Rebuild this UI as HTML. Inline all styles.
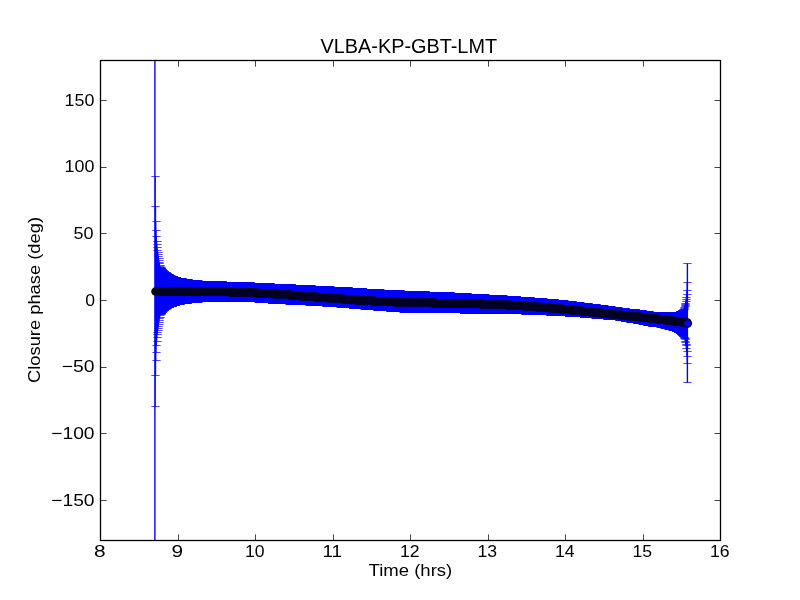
<!DOCTYPE html><html><head><meta charset="utf-8"><style>html,body{margin:0;padding:0;background:#fff;overflow:hidden}svg{display:block;will-change:transform}text{font-family:"Liberation Sans",sans-serif;fill:#000}</style></head><body><svg width="800" height="600" viewBox="0 0 800 600"><rect width="800" height="600" fill="#fff"/><defs><clipPath id="ax"><rect x="100" y="60" width="621" height="481"/></clipPath></defs><g clip-path="url(#ax)" fill="none" stroke="#00f"><path d="M154.90 -18.80V601.20M155.18 176.07V406.33M155.46 206.83V375.58M155.74 221.45V360.96M156.02 230.42V352.01M156.30 236.63V345.80M156.58 241.26V341.18M156.86 244.88V337.56M157.14 247.82V334.63M157.42 250.26V332.20M157.70 252.33V330.13M157.98 254.31V328.15M158.26 256.36V326.11M158.55 258.38V324.10M158.83 260.32V322.16M159.11 262.15V320.34M159.39 263.85V318.65M159.67 265.42V317.08M159.95 266.86V315.65M160.23 267.40V314.50M160.51 267.72V314.18M160.79 268.06V313.83M161.07 268.41V313.48M161.35 268.76V313.13M161.63 269.10V312.78M161.91 269.45V312.42M162.19 269.79V312.07M162.47 270.14V311.72M162.75 270.49V311.37M163.03 270.83V311.02M163.31 271.14V310.71M163.59 271.34V310.51M163.87 271.54V310.31M164.15 271.74V310.11M164.43 271.94V309.91M164.71 272.13V309.72M164.99 272.33V309.52M165.28 272.53V309.32M165.56 272.73V309.12M165.84 272.93V308.92M166.12 273.13V308.72M166.40 273.32V308.53M166.68 273.52V308.33M166.96 273.72V308.13M167.24 273.89V308.00M167.52 274.06V307.89M167.80 274.23V307.78M168.08 274.40V307.67M168.36 274.57V307.56M168.64 274.73V307.44M168.92 274.90V307.33M169.20 275.07V307.22M169.48 275.24V307.11M169.76 275.41V307.00M170.04 275.58V306.88M170.32 275.74V306.77M170.60 275.91V306.66M170.88 276.05V306.56M171.16 276.15V306.46M171.44 276.26V306.37M171.72 276.36V306.28M172.01 276.47V306.18M172.29 276.57V306.09M172.57 276.68V305.99M172.85 276.78V305.90M173.13 276.89V305.81M173.41 276.99V305.71M173.69 277.10V305.62M173.97 277.20V305.53M174.25 277.31V305.43M174.53 277.41V305.34M174.81 277.48V305.26M175.09 277.56V305.17M175.37 277.63V305.08M175.65 277.71V305.00M175.93 277.78V304.91M176.21 277.86V304.83M176.49 277.93V304.74M176.77 278.01V304.65M177.05 278.08V304.57M177.33 278.16V304.48M177.61 278.23V304.40M177.89 278.30V304.31M178.17 278.38V304.22M178.45 278.43V304.18M178.73 278.48V304.15M179.02 278.52V304.12M179.30 278.57V304.09M179.58 278.61V304.06M179.86 278.66V304.03M180.14 278.70V304.00M180.42 278.75V303.97M180.70 278.79V303.94M180.98 278.84V303.91M181.26 278.88V303.88M181.54 278.93V303.85M181.82 278.97V303.82M182.10 279.02V303.79M182.38 279.06V303.74M182.66 279.11V303.70M182.94 279.16V303.66M183.22 279.20V303.62M183.50 279.25V303.57M183.78 279.30V303.53M184.06 279.34V303.49M184.34 279.39V303.45M184.62 279.44V303.41M184.90 279.48V303.36M185.18 279.53V303.32M185.46 279.58V303.28M185.75 279.62V303.24M186.03 279.67V303.20M186.31 279.72V303.15M186.59 279.76V303.11M186.87 279.81V303.07M187.15 279.86V303.03M187.43 279.90V302.99M187.71 279.95V302.94M187.99 280.00V302.90M188.27 280.03V302.88M188.55 280.05V302.86M188.83 280.08V302.84M189.11 280.11V302.82M189.39 280.13V302.79M189.67 280.16V302.77M189.95 280.19V302.75M190.23 280.21V302.73M190.51 280.24V302.71M190.79 280.27V302.69M191.07 280.29V302.67M191.35 280.32V302.64M191.63 280.35V302.62M191.91 280.37V302.60M192.19 280.40V302.58M192.48 280.43V302.56M192.76 280.45V302.54M193.04 280.48V302.52M193.32 280.51V302.49M193.60 280.54V302.46M193.88 280.57V302.43M194.16 280.60V302.40M194.44 280.64V302.36M194.72 280.67V302.33M195.00 280.70V302.30M195.28 280.73V302.27M195.56 280.76V302.24M195.84 280.80V302.20M196.12 280.83V302.17M196.40 280.86V302.14M196.68 280.89V302.11M196.96 280.92V302.08M197.24 280.96V302.04M197.52 280.99V302.01M197.80 281.02V301.98M198.08 281.05V301.95M198.36 281.08V301.92M198.64 281.10V301.90M198.92 281.11V301.89M199.20 281.12V301.88M199.49 281.13V301.87M199.77 281.14V301.86M200.05 281.15V301.85M200.33 281.16V301.84M200.61 281.16V301.84M200.89 281.17V301.83M201.17 281.18V301.82M201.45 281.19V301.81M201.73 281.20V301.80M202.01 281.21V301.79M202.29 281.22V301.78M202.57 281.23V301.77M202.85 281.23V301.77M203.13 281.24V301.76M203.41 281.25V301.75M203.69 281.26V301.74M203.97 281.27V301.73M204.25 281.28V301.72M204.53 281.29V301.71M204.81 281.29V301.71M205.09 281.30V301.70M205.37 281.31V301.69M205.65 281.32V301.68M205.93 281.33V301.67M206.22 281.34V301.66M206.50 281.35V301.65M206.78 281.35V301.65M207.06 281.36V301.64M207.34 281.37V301.63M207.62 281.38V301.62M207.90 281.39V301.61M208.18 281.40V301.60M208.46 281.41V301.59M208.74 281.42V301.58M209.02 281.43V301.57M209.30 281.44V301.56M209.58 281.45V301.55M209.86 281.46V301.54M210.14 281.48V301.52M210.42 281.49V301.51M210.70 281.50V301.50M210.98 281.51V301.49M211.26 281.52V301.48M211.54 281.53V301.47M211.82 281.54V301.46M212.10 281.55V301.45M212.38 281.57V301.43M212.66 281.58V301.42M212.95 281.59V301.41M213.23 281.60V301.40M213.51 281.61V301.39M213.79 281.62V301.38M214.07 281.63V301.37M214.35 281.64V301.36M214.63 281.66V301.34M214.91 281.67V301.33M215.19 281.68V301.32M215.47 281.69V301.31M215.75 281.70V301.30M216.03 281.71V301.30M216.31 281.73V301.29M216.59 281.74V301.29M216.87 281.75V301.29M217.15 281.76V301.29M217.43 281.78V301.28M217.71 281.79V301.28M217.99 281.80V301.28M218.27 281.82V301.27M218.55 281.83V301.27M218.83 281.84V301.27M219.11 281.85V301.27M219.39 281.87V301.26M219.67 281.88V301.26M219.96 281.89V301.26M220.24 281.91V301.26M220.52 281.92V301.25M220.80 281.93V301.25M221.08 281.94V301.25M221.36 281.96V301.24M221.64 281.97V301.24M221.92 281.98V301.24M222.20 281.99V301.24M222.48 282.01V301.23M222.76 282.02V301.23M223.04 282.03V301.23M223.32 282.05V301.22M223.60 282.06V301.22M223.88 282.07V301.22M224.16 282.08V301.22M224.44 282.10V301.21M224.72 282.11V301.21M225.00 282.12V301.21M225.28 282.14V301.20M225.56 282.15V301.20M225.84 282.16V301.20M226.12 282.17V301.20M226.40 282.19V301.19M226.69 282.20V301.19M226.97 282.21V301.19M227.25 282.23V301.19M227.53 282.24V301.18M227.81 282.25V301.18M228.09 282.26V301.18M228.37 282.28V301.17M228.65 282.29V301.17M228.93 282.30V301.17M229.21 282.32V301.17M229.49 282.33V301.16M229.77 282.34V301.16M230.05 282.35V301.16M230.33 282.37V301.15M230.61 282.38V301.15M230.89 282.39V301.15M231.17 282.40V301.15M231.45 282.42V301.14M231.73 282.43V301.14M232.01 282.44V301.14M232.29 282.46V301.13M232.57 282.47V301.13M232.85 282.48V301.13M233.13 282.49V301.13M233.42 282.51V301.12M233.70 282.52V301.12M233.98 282.53V301.12M234.26 282.54V301.11M234.54 282.55V301.11M234.82 282.56V301.11M235.10 282.57V301.11M235.38 282.59V301.10M235.66 282.60V301.10M235.94 282.61V301.10M236.22 282.62V301.10M236.50 282.63V301.11M236.78 282.64V301.11M237.06 282.65V301.11M237.34 282.66V301.11M237.62 282.67V301.12M237.90 282.69V301.12M238.18 282.70V301.12M238.46 282.71V301.12M238.74 282.72V301.12M239.02 282.73V301.13M239.30 282.74V301.13M239.58 282.75V301.13M239.86 282.76V301.13M240.14 282.61V301.10M240.43 282.62V301.10M240.71 282.63V301.11M240.99 282.64V301.11M241.27 282.65V301.11M241.55 282.66V301.11M241.83 282.67V301.12M242.11 282.68V301.12M242.39 282.70V301.12M242.67 282.71V301.12M242.95 282.72V301.12M243.23 282.73V301.13M243.51 282.74V301.13M243.79 282.75V301.13M244.07 282.76V301.13M244.35 282.77V301.14M244.63 282.79V301.14M244.91 282.80V301.14M245.19 282.81V301.14M245.47 282.82V301.15M245.75 282.83V301.15M246.03 282.84V301.15M246.31 282.85V301.15M246.59 282.86V301.15M246.87 282.87V301.16M247.16 282.89V301.16M247.44 282.90V301.16M247.72 282.91V301.16M248.00 282.92V301.17M248.28 282.93V301.17M248.56 282.94V301.17M248.84 282.95V301.17M249.12 282.96V301.18M249.40 282.98V301.18M249.68 282.99V301.18M249.96 283.00V301.18M250.24 283.01V301.19M250.52 283.03V301.19M250.80 283.04V301.19M251.08 283.05V301.19M251.36 283.07V301.19M251.64 283.08V301.20M251.92 283.10V301.20M252.20 283.11V301.23M252.48 283.12V301.26M252.76 283.14V301.30M253.04 283.15V301.34M253.32 283.17V301.37M253.60 283.18V301.41M253.88 283.19V301.45M254.17 283.21V301.48M254.45 283.22V301.52M254.73 283.24V301.56M255.01 283.25V301.59M255.29 283.26V301.63M255.57 283.28V301.67M255.85 283.29V301.71M256.13 283.31V301.74M256.41 283.32V301.78M256.69 283.33V301.82M256.97 283.35V301.85M257.25 283.36V301.89M257.53 283.38V301.93M257.81 283.39V301.96M258.09 283.40V302.00M258.37 283.42V302.04M258.65 283.43V302.07M258.93 283.45V302.11M259.21 283.46V302.15M259.49 283.47V302.18M259.77 283.49V302.22M260.05 283.50V302.25M260.33 283.52V302.27M260.61 283.53V302.29M260.90 283.54V302.31M261.18 283.56V302.33M261.46 283.57V302.35M261.74 283.59V302.36M262.02 283.60V302.38M262.30 283.61V302.40M262.58 283.63V302.42M262.86 283.64V302.44M263.14 283.66V302.46M263.42 283.67V302.47M263.70 283.68V302.49M263.98 283.70V302.51M264.26 283.71V302.53M264.54 283.73V302.55M264.82 283.74V302.57M265.10 283.76V302.59M265.38 283.77V302.60M265.66 283.78V302.62M265.94 283.80V302.64M266.22 283.81V302.66M266.50 283.83V302.68M266.78 283.84V302.70M267.06 283.85V302.71M267.34 283.87V302.73M267.63 283.88V302.75M267.91 283.90V302.77M268.19 283.91V302.79M268.47 283.92V302.81M268.75 283.94V302.83M269.03 283.95V302.84M269.31 283.97V302.86M269.59 283.98V302.88M269.87 283.99V302.90M270.15 284.01V302.92M270.43 284.02V302.94M270.71 284.03V302.95M270.99 284.05V302.97M271.27 284.06V302.99M271.55 284.07V303.01M271.83 284.09V303.03M272.11 284.10V303.05M272.39 284.11V303.07M272.67 284.12V303.08M272.95 284.14V303.10M273.23 284.15V303.12M273.51 284.16V303.14M273.79 284.18V303.16M274.07 284.19V303.18M274.35 284.20V303.19M274.64 284.22V303.21M274.92 284.23V303.23M275.20 284.24V303.25M275.48 284.26V303.27M275.76 284.27V303.29M276.04 284.28V303.31M276.32 284.29V303.32M276.60 284.31V303.34M276.88 284.32V303.36M277.16 284.33V303.38M277.44 284.35V303.40M277.72 284.36V303.42M278.00 284.37V303.43M278.28 284.39V303.45M278.56 284.40V303.47M278.84 284.41V303.49M279.12 284.43V303.51M279.40 284.44V303.52M279.68 284.45V303.53M279.96 284.46V303.55M280.24 284.48V303.56M280.52 284.49V303.57M280.80 284.50V303.59M281.08 284.52V303.60M281.37 284.53V303.61M281.65 284.54V303.63M281.93 284.56V303.64M282.21 284.57V303.65M282.49 284.58V303.67M282.77 284.60V303.68M283.05 284.61V303.69M283.33 284.62V303.71M283.61 284.64V303.72M283.89 284.65V303.74M284.17 284.66V303.75M284.45 284.67V303.76M284.73 284.69V303.78M285.01 284.70V303.79M285.29 284.71V303.80M285.57 284.73V303.82M285.85 284.74V303.83M286.13 284.75V303.84M286.41 284.77V303.86M286.69 284.78V303.87M286.97 284.79V303.88M287.25 284.81V303.90M287.53 284.82V303.91M287.81 284.83V303.92M288.10 284.84V303.94M288.38 284.86V303.95M288.66 284.87V303.96M288.94 284.88V303.98M289.22 284.90V303.99M289.50 284.91V304.00M289.78 284.92V304.02M290.06 284.94V304.03M290.34 284.95V304.05M290.62 284.96V304.06M290.90 284.98V304.07M291.18 284.99V304.09M291.46 285.00V304.10M291.74 285.01V304.11M292.02 285.03V304.13M292.30 285.04V304.14M292.58 285.05V304.15M292.86 285.07V304.17M293.14 285.08V304.18M293.42 285.09V304.19M293.70 285.11V304.21M293.98 285.12V304.22M294.26 285.13V304.23M294.54 285.15V304.25M294.82 285.16V304.26M295.11 285.17V304.27M295.39 285.18V304.29M295.67 285.20V304.30M295.95 285.21V304.31M296.23 285.22V304.33M296.51 285.24V304.34M296.79 285.25V304.36M297.07 285.26V304.37M297.35 285.28V304.38M297.63 285.29V304.40M297.91 285.30V304.41M298.19 285.32V304.42M298.47 285.33V304.44M298.75 285.34V304.45M299.03 285.35V304.46M299.31 285.37V304.48M299.59 285.38V304.49M299.87 285.39V304.50M300.15 285.41V304.52M300.43 285.42V304.53M300.71 285.44V304.54M300.99 285.45V304.56M301.27 285.47V304.57M301.55 285.49V304.58M301.84 285.50V304.60M302.12 285.52V304.61M302.40 285.53V304.62M302.68 285.55V304.64M302.96 285.56V304.65M303.24 285.58V304.67M303.52 285.59V304.68M303.80 285.61V304.69M304.08 285.62V304.71M304.36 285.64V304.72M304.64 285.66V304.73M304.92 285.67V304.75M305.20 285.69V304.76M305.48 285.70V304.78M305.76 285.72V304.80M306.04 285.73V304.81M306.32 285.75V304.83M306.60 285.76V304.85M306.88 285.78V304.86M307.16 285.79V304.88M307.44 285.81V304.90M307.72 285.82V304.91M308.00 285.84V304.93M308.28 285.86V304.95M308.57 285.87V304.96M308.85 285.89V304.98M309.13 285.90V305.00M309.41 285.92V305.01M309.69 285.93V305.03M309.97 285.95V305.05M310.25 285.96V305.06M310.53 285.98V305.08M310.81 285.99V305.10M311.09 286.01V305.12M311.37 286.03V305.13M311.65 286.04V305.15M311.93 286.06V305.17M312.21 286.07V305.18M312.49 286.09V305.20M312.77 286.10V305.22M313.05 286.12V305.23M313.33 286.13V305.25M313.61 286.15V305.27M313.89 286.16V305.28M314.17 286.18V305.30M314.45 286.19V305.32M314.73 286.21V305.33M315.01 286.23V305.35M315.29 286.24V305.37M315.58 286.26V305.38M315.86 286.27V305.40M316.14 286.29V305.42M316.42 286.30V305.43M316.70 286.32V305.45M316.98 286.33V305.47M317.26 286.35V305.49M317.54 286.36V305.50M317.82 286.38V305.52M318.10 286.40V305.54M318.38 286.41V305.55M318.66 286.43V305.57M318.94 286.44V305.59M319.22 286.46V305.60M319.50 286.47V305.62M319.78 286.49V305.64M320.06 286.50V305.65M320.34 286.52V305.67M320.62 286.53V305.69M320.90 286.55V305.70M321.18 286.56V305.72M321.46 286.58V305.74M321.74 286.59V305.75M322.02 286.61V305.77M322.31 286.62V305.79M322.59 286.63V305.81M322.87 286.65V305.82M323.15 286.66V305.84M323.43 286.68V305.86M323.71 286.69V305.87M323.99 286.71V305.89M324.27 286.72V305.91M324.55 286.74V305.92M324.83 286.75V305.94M325.11 286.77V305.96M325.39 286.78V305.97M325.67 286.79V305.99M325.95 286.81V306.01M326.23 286.82V306.02M326.51 286.84V306.04M326.79 286.85V306.06M327.07 286.87V306.07M327.35 286.88V306.09M327.63 286.90V306.11M327.91 286.91V306.12M328.19 286.93V306.14M328.47 286.94V306.16M328.75 286.96V306.18M329.04 286.97V306.19M329.32 286.98V306.21M329.60 287.00V306.23M329.88 287.01V306.24M330.16 287.03V306.26M330.44 287.04V306.28M330.72 287.06V306.30M331.00 287.07V306.32M331.28 287.09V306.34M331.56 287.10V306.36M331.84 287.12V306.39M332.12 287.13V306.41M332.40 287.14V306.43M332.68 287.16V306.45M332.96 287.17V306.47M333.24 287.19V306.49M333.52 287.20V306.51M333.80 287.22V306.53M334.08 287.23V306.55M334.36 287.25V306.57M334.64 287.26V306.59M334.92 287.28V306.61M335.20 287.29V306.63M335.48 287.31V306.65M335.76 287.32V306.67M336.05 287.33V306.69M336.33 287.35V306.72M336.61 287.36V306.74M336.89 287.38V306.76M337.17 287.39V306.78M337.45 287.41V306.80M337.73 287.42V306.82M338.01 287.44V306.84M338.29 287.45V306.86M338.57 287.47V306.88M338.85 287.48V306.90M339.13 287.49V306.92M339.41 287.51V306.94M339.69 287.52V306.96M339.97 287.54V306.98M340.25 287.55V307.00M340.53 287.57V307.02M340.81 287.58V307.05M341.09 287.60V307.07M341.37 287.61V307.09M341.65 287.63V307.11M341.93 287.64V307.13M342.21 287.66V307.15M342.49 287.67V307.17M342.78 287.68V307.19M343.06 287.70V307.21M343.34 287.71V307.23M343.62 287.73V307.25M343.90 287.74V307.27M344.18 287.76V307.29M344.46 287.77V307.31M344.74 287.79V307.33M345.02 287.80V307.35M345.30 287.82V307.37M345.58 287.84V307.40M345.86 287.86V307.42M346.14 287.88V307.44M346.42 287.90V307.46M346.70 287.92V307.48M346.98 287.93V307.50M347.26 287.95V307.52M347.54 287.97V307.55M347.82 287.99V307.57M348.10 288.01V307.60M348.38 288.03V307.62M348.66 288.05V307.65M348.94 288.07V307.67M349.22 288.09V307.69M349.51 288.11V307.72M349.79 288.13V307.74M350.07 288.14V307.77M350.35 288.16V307.79M350.63 288.18V307.82M350.91 288.20V307.84M351.19 288.22V307.87M351.47 288.24V307.89M351.75 288.26V307.92M352.03 288.28V307.94M352.31 288.30V307.96M352.59 288.32V307.99M352.87 288.34V308.01M353.15 288.35V308.04M353.43 288.37V308.06M353.71 288.39V308.09M353.99 288.41V308.11M354.27 288.43V308.14M354.55 288.45V308.16M354.83 288.47V308.19M355.11 288.49V308.21M355.39 288.51V308.23M355.67 288.53V308.26M355.95 288.54V308.28M356.23 288.56V308.31M356.52 288.58V308.33M356.80 288.60V308.36M357.08 288.62V308.38M357.36 288.64V308.41M357.64 288.66V308.43M357.92 288.68V308.46M358.20 288.70V308.48M358.48 288.72V308.50M358.76 288.74V308.53M359.04 288.75V308.55M359.32 288.77V308.58M359.60 288.79V308.60M359.88 288.81V308.63M360.16 288.83V308.65M360.44 288.85V308.68M360.72 288.87V308.70M361.00 288.89V308.73M361.28 288.91V308.75M361.56 288.93V308.77M361.84 288.95V308.80M362.12 288.96V308.82M362.40 288.98V308.85M362.68 289.00V308.87M362.96 289.02V308.90M363.25 289.04V308.92M363.53 289.06V308.95M363.81 289.08V308.97M364.09 289.10V309.00M364.37 289.12V309.02M364.65 289.14V309.04M364.93 289.16V309.07M365.21 289.17V309.09M365.49 289.19V309.12M365.77 289.21V309.14M366.05 289.23V309.17M366.33 289.25V309.19M366.61 289.27V309.22M366.89 289.29V309.24M367.17 289.31V309.26M367.45 289.33V309.28M367.73 289.35V309.31M368.01 289.36V309.33M368.29 289.38V309.35M368.57 289.40V309.37M368.85 289.42V309.39M369.13 289.44V309.41M369.41 289.46V309.43M369.69 289.48V309.46M369.98 289.50V309.48M370.26 289.51V309.50M370.54 289.53V309.52M370.82 289.54V309.54M371.10 289.56V309.56M371.38 289.57V309.58M371.66 289.59V309.60M371.94 289.60V309.63M372.22 289.62V309.65M372.50 289.63V309.67M372.78 289.64V309.69M373.06 289.66V309.71M373.34 289.67V309.73M373.62 289.69V309.75M373.90 289.70V309.78M374.18 289.72V309.80M374.46 289.73V309.82M374.74 289.75V309.84M375.02 289.76V309.86M375.30 289.78V309.88M375.58 289.79V309.90M375.86 289.80V309.92M376.14 289.82V309.95M376.42 289.83V309.97M376.70 289.85V309.99M376.99 289.86V310.01M377.27 289.88V310.03M377.55 289.89V310.05M377.83 289.91V310.07M378.11 289.92V310.10M378.39 289.94V310.12M378.67 289.95V310.14M378.95 289.97V310.16M379.23 289.98V310.18M379.51 289.99V310.20M379.79 290.01V310.22M380.07 290.02V310.24M380.35 290.04V310.27M380.63 290.05V310.29M380.91 290.07V310.31M381.19 290.08V310.33M381.47 290.10V310.35M381.75 290.11V310.37M382.03 290.13V310.39M382.31 290.14V310.42M382.59 290.15V310.44M382.87 290.17V310.46M383.15 290.18V310.48M383.43 290.20V310.50M383.72 290.21V310.52M384.00 290.23V310.54M384.28 290.24V310.56M384.56 290.26V310.59M384.84 290.27V310.61M385.12 290.29V310.63M385.40 290.30V310.65M385.68 290.32V310.67M385.96 290.33V310.69M386.24 290.34V310.71M386.52 290.36V310.74M386.80 290.37V310.76M387.08 290.39V310.78M387.36 290.40V310.80M387.64 290.42V310.82M387.92 290.43V310.84M388.20 290.45V310.86M388.48 290.46V310.88M388.76 290.48V310.91M389.04 290.49V310.93M389.32 290.50V310.95M389.60 290.52V310.97M389.88 290.53V310.99M390.16 290.55V311.01M390.45 290.56V311.03M390.73 290.58V311.05M391.01 290.59V311.08M391.29 290.61V311.10M391.57 290.62V311.12M391.85 290.64V311.14M392.13 290.65V311.16M392.41 290.67V311.18M392.69 290.68V311.20M392.97 290.69V311.22M393.25 290.71V311.24M393.53 290.72V311.26M393.81 290.74V311.29M394.09 290.75V311.31M394.37 290.77V311.33M394.65 290.78V311.35M394.93 290.80V311.37M395.21 290.81V311.39M395.49 290.82V311.41M395.77 290.83V311.43M396.05 290.84V311.45M396.33 290.85V311.48M396.61 290.86V311.50M396.89 290.88V311.52M397.17 290.89V311.54M397.46 290.90V311.56M397.74 290.91V311.58M398.02 290.92V311.60M398.30 290.93V311.62M398.58 290.94V311.64M398.86 290.95V311.66M399.14 290.97V311.69M399.42 290.98V311.71M399.70 290.99V311.73M399.98 291.00V311.75M400.26 291.01V311.77M400.54 291.02V311.79M400.82 291.03V311.81M401.10 291.04V311.83M401.38 291.06V311.85M401.66 291.07V311.87M401.94 291.08V311.90M402.22 291.09V311.92M402.50 291.10V311.94M402.78 291.11V311.96M403.06 291.12V311.98M403.34 291.13V312.00M403.62 291.14V312.02M403.90 291.16V312.04M404.19 291.17V312.06M404.47 291.18V312.08M404.75 291.19V312.11M405.03 291.20V312.13M405.31 291.21V312.15M405.59 291.22V312.17M405.87 291.23V312.19M406.15 291.25V312.21M406.43 291.26V312.23M406.71 291.27V312.25M406.99 291.28V312.27M407.27 291.29V312.30M407.55 291.30V312.32M407.83 291.31V312.34M408.11 291.32V312.36M408.39 291.34V312.38M408.67 291.35V312.40M408.95 291.36V312.42M409.23 291.37V312.44M409.51 291.38V312.46M409.79 291.39V312.48M410.07 291.40V312.50M410.35 291.41V312.50M410.63 291.43V312.51M410.92 291.44V312.51M411.20 291.45V312.51M411.48 291.46V312.51M411.76 291.47V312.52M412.04 291.48V312.52M412.32 291.49V312.52M412.60 291.50V312.53M412.88 291.52V312.53M413.16 291.53V312.53M413.44 291.54V312.53M413.72 291.55V312.54M414.00 291.56V312.54M414.28 291.57V312.54M414.56 291.58V312.55M414.84 291.59V312.55M415.12 291.60V312.55M415.40 291.62V312.55M415.68 291.63V312.56M415.96 291.64V312.56M416.24 291.65V312.56M416.52 291.66V312.57M416.80 291.67V312.57M417.08 291.68V312.57M417.36 291.69V312.57M417.64 291.71V312.58M417.93 291.72V312.58M418.21 291.73V312.58M418.49 291.74V312.58M418.77 291.75V312.59M419.05 291.76V312.59M419.33 291.77V312.59M419.61 291.78V312.60M419.89 291.80V312.60M420.17 291.81V312.60M420.45 291.82V312.60M420.73 291.83V312.61M421.01 291.84V312.61M421.29 291.85V312.61M421.57 291.86V312.62M421.85 291.87V312.62M422.13 291.89V312.62M422.41 291.90V312.62M422.69 291.91V312.63M422.97 291.92V312.63M423.25 291.93V312.63M423.53 291.94V312.64M423.81 291.95V312.64M424.09 291.96V312.64M424.37 291.97V312.64M424.66 291.99V312.65M424.94 292.00V312.65M425.22 292.01V312.65M425.50 292.02V312.65M425.78 292.03V312.66M426.06 292.04V312.66M426.34 292.05V312.66M426.62 292.06V312.67M426.90 292.08V312.67M427.18 292.09V312.67M427.46 292.10V312.67M427.74 292.11V312.68M428.02 292.12V312.68M428.30 292.13V312.68M428.58 292.14V312.69M428.86 292.15V312.69M429.14 292.17V312.69M429.42 292.18V312.69M429.70 292.19V312.70M429.98 292.20V312.70M430.26 292.21V312.70M430.54 292.22V312.71M430.82 292.23V312.71M431.10 292.24V312.71M431.38 292.26V312.71M431.67 292.27V312.72M431.95 292.28V312.72M432.23 292.29V312.72M432.51 292.30V312.73M432.79 292.31V312.73M433.07 292.32V312.73M433.35 292.33V312.73M433.63 292.35V312.74M433.91 292.36V312.74M434.19 292.37V312.74M434.47 292.38V312.74M434.75 292.39V312.75M435.03 292.40V312.75M435.31 292.41V312.75M435.59 292.42V312.76M435.87 292.43V312.76M436.15 292.45V312.76M436.43 292.46V312.76M436.71 292.47V312.77M436.99 292.48V312.77M437.27 292.49V312.77M437.55 292.50V312.78M437.83 292.51V312.78M438.11 292.52V312.78M438.40 292.54V312.78M438.68 292.55V312.79M438.96 292.56V312.79M439.24 292.57V312.79M439.52 292.58V312.80M439.80 292.59V312.80M440.08 292.60V312.80M440.36 292.61V312.80M440.64 292.63V312.81M440.92 292.64V312.81M441.20 292.65V312.81M441.48 292.66V312.81M441.76 292.67V312.82M442.04 292.68V312.82M442.32 292.69V312.82M442.60 292.70V312.83M442.88 292.72V312.83M443.16 292.73V312.83M443.44 292.74V312.83M443.72 292.75V312.84M444.00 292.76V312.84M444.28 292.77V312.84M444.56 292.78V312.85M444.84 292.79V312.85M445.13 292.81V312.85M445.41 292.82V312.85M445.69 292.83V312.86M445.97 292.84V312.86M446.25 292.85V312.86M446.53 292.86V312.87M446.81 292.87V312.87M447.09 292.88V312.87M447.37 292.89V312.87M447.65 292.91V312.88M447.93 292.92V312.88M448.21 292.93V312.88M448.49 292.94V312.88M448.77 292.95V312.89M449.05 292.96V312.89M449.33 292.97V312.89M449.61 292.98V312.90M449.89 293.00V312.90M450.17 293.01V312.90M450.45 293.03V312.90M450.73 293.04V312.91M451.01 293.06V312.91M451.29 293.08V312.91M451.57 293.09V312.91M451.85 293.11V312.91M452.14 293.12V312.92M452.42 293.14V312.92M452.70 293.16V312.92M452.98 293.17V312.92M453.26 293.19V312.92M453.54 293.21V312.93M453.82 293.22V312.93M454.10 293.24V312.93M454.38 293.26V312.93M454.66 293.27V312.93M454.94 293.29V312.94M455.22 293.30V312.94M455.50 293.32V312.94M455.78 293.34V312.94M456.06 293.35V312.94M456.34 293.37V312.95M456.62 293.39V312.95M456.90 293.40V312.95M457.18 293.42V312.95M457.46 293.44V312.96M457.74 293.45V312.96M458.02 293.47V312.96M458.30 293.48V312.96M458.58 293.50V312.96M458.87 293.52V312.97M459.15 293.53V312.97M459.43 293.55V312.97M459.71 293.57V312.97M459.99 293.58V312.97M460.27 293.60V312.98M460.55 293.62V312.98M460.83 293.63V312.98M461.11 293.65V312.98M461.39 293.66V312.98M461.67 293.68V312.99M461.95 293.70V312.99M462.23 293.71V312.99M462.51 293.73V312.99M462.79 293.75V312.99M463.07 293.76V313.00M463.35 293.78V313.00M463.63 293.80V313.00M463.91 293.81V313.00M464.19 293.83V313.01M464.47 293.84V313.01M464.75 293.86V313.01M465.03 293.88V313.01M465.31 293.89V313.01M465.60 293.91V313.02M465.88 293.93V313.02M466.16 293.94V313.02M466.44 293.96V313.02M466.72 293.98V313.02M467.00 293.99V313.03M467.28 294.01V313.03M467.56 294.02V313.03M467.84 294.04V313.03M468.12 294.06V313.03M468.40 294.07V313.04M468.68 294.09V313.04M468.96 294.11V313.04M469.24 294.12V313.04M469.52 294.14V313.04M469.80 294.16V313.05M470.08 294.17V313.05M470.36 294.19V313.05M470.64 294.20V313.05M470.92 294.22V313.05M471.20 294.24V313.06M471.48 294.25V313.06M471.76 294.27V313.06M472.04 294.29V313.06M472.32 294.30V313.07M472.61 294.32V313.07M472.89 294.34V313.07M473.17 294.35V313.07M473.45 294.37V313.07M473.73 294.38V313.08M474.01 294.40V313.08M474.29 294.42V313.08M474.57 294.43V313.08M474.85 294.45V313.08M475.13 294.47V313.09M475.41 294.48V313.09M475.69 294.50V313.09M475.97 294.51V313.09M476.25 294.53V313.09M476.53 294.55V313.10M476.81 294.56V313.10M477.09 294.58V313.10M477.37 294.60V313.11M477.65 294.61V313.11M477.93 294.63V313.12M478.21 294.65V313.12M478.49 294.66V313.13M478.77 294.68V313.13M479.05 294.69V313.14M479.34 294.71V313.14M479.62 294.73V313.15M479.90 294.74V313.15M480.18 294.76V313.16M480.46 294.77V313.16M480.74 294.79V313.16M481.02 294.80V313.17M481.30 294.82V313.17M481.58 294.83V313.18M481.86 294.85V313.18M482.14 294.86V313.19M482.42 294.88V313.19M482.70 294.89V313.20M482.98 294.91V313.20M483.26 294.92V313.21M483.54 294.94V313.21M483.82 294.95V313.22M484.10 294.97V313.22M484.38 294.98V313.23M484.66 294.99V313.23M484.94 295.01V313.24M485.22 295.02V313.24M485.50 295.04V313.25M485.78 295.05V313.25M486.07 295.07V313.26M486.35 295.08V313.26M486.63 295.10V313.27M486.91 295.11V313.27M487.19 295.13V313.28M487.47 295.14V313.28M487.75 295.16V313.29M488.03 295.17V313.29M488.31 295.19V313.30M488.59 295.20V313.30M488.87 295.22V313.31M489.15 295.23V313.31M489.43 295.25V313.32M489.71 295.26V313.32M489.99 295.27V313.33M490.27 295.29V313.33M490.55 295.30V313.34M490.83 295.32V313.34M491.11 295.33V313.35M491.39 295.35V313.35M491.67 295.36V313.36M491.95 295.38V313.36M492.23 295.39V313.36M492.51 295.41V313.37M492.79 295.42V313.37M493.08 295.44V313.38M493.36 295.45V313.38M493.64 295.47V313.39M493.92 295.48V313.39M494.20 295.50V313.40M494.48 295.51V313.40M494.76 295.52V313.41M495.04 295.54V313.41M495.32 295.55V313.42M495.60 295.57V313.42M495.88 295.58V313.43M496.16 295.60V313.43M496.44 295.61V313.44M496.72 295.63V313.44M497.00 295.64V313.45M497.28 295.66V313.45M497.56 295.67V313.46M497.84 295.69V313.46M498.12 295.70V313.47M498.40 295.72V313.47M498.68 295.73V313.48M498.96 295.75V313.48M499.24 295.76V313.49M499.52 295.78V313.49M499.81 295.79V313.50M500.09 295.81V313.50M500.37 295.83V313.51M500.65 295.85V313.51M500.93 295.87V313.52M501.21 295.89V313.52M501.49 295.91V313.53M501.77 295.93V313.54M502.05 295.95V313.54M502.33 295.97V313.55M502.61 295.99V313.55M502.89 296.01V313.56M503.17 296.03V313.56M503.45 296.05V313.57M503.73 296.07V313.57M504.01 296.09V313.58M504.29 296.11V313.59M504.57 296.13V313.59M504.85 296.15V313.60M505.13 296.17V313.60M505.41 296.19V313.61M505.69 296.21V313.61M505.97 296.23V313.62M506.25 296.25V313.63M506.54 296.27V313.63M506.82 296.29V313.64M507.10 296.31V313.64M507.38 296.33V313.65M507.66 296.36V313.65M507.94 296.38V313.66M508.22 296.40V313.66M508.50 296.42V313.67M508.78 296.44V313.68M509.06 296.46V313.68M509.34 296.48V313.69M509.62 296.50V313.69M509.90 296.52V313.70M510.18 296.54V313.70M510.46 296.56V313.71M510.74 296.58V313.71M511.02 296.60V313.72M511.30 296.62V313.73M511.58 296.64V313.73M511.86 296.66V313.74M512.14 296.68V313.74M512.42 296.70V313.75M512.70 296.72V313.75M512.98 296.74V313.76M513.26 296.76V313.77M513.55 296.78V313.77M513.83 296.80V313.78M514.11 296.82V313.78M514.39 296.84V313.79M514.67 296.86V313.79M514.95 296.88V313.80M515.23 296.90V313.80M515.51 296.92V313.81M515.79 296.94V313.82M516.07 296.97V313.82M516.35 296.99V313.83M516.63 297.01V313.83M516.91 297.03V313.84M517.19 297.05V313.84M517.47 297.07V313.85M517.75 297.09V313.86M518.03 297.11V313.86M518.31 297.13V313.87M518.59 297.15V313.87M518.87 297.17V313.88M519.15 297.19V313.88M519.43 297.21V313.89M519.71 297.23V313.89M519.99 297.25V313.90M520.28 297.27V313.91M520.56 297.29V313.91M520.84 297.31V313.92M521.12 297.33V313.92M521.40 297.35V313.93M521.68 297.38V313.93M521.96 297.40V313.94M522.24 297.42V313.94M522.52 297.44V313.95M522.80 297.46V313.96M523.08 297.48V313.96M523.36 297.50V313.97M523.64 297.52V313.97M523.92 297.54V313.98M524.20 297.57V313.98M524.48 297.59V313.99M524.76 297.61V314.00M525.04 297.63V314.00M525.32 297.65V314.01M525.60 297.67V314.01M525.88 297.69V314.02M526.16 297.71V314.02M526.44 297.73V314.03M526.72 297.75V314.03M527.01 297.78V314.04M527.29 297.80V314.05M527.57 297.82V314.05M527.85 297.84V314.06M528.13 297.86V314.06M528.41 297.88V314.07M528.69 297.90V314.07M528.97 297.92V314.08M529.25 297.94V314.08M529.53 297.96V314.09M529.81 297.99V314.10M530.09 298.01V314.10M530.37 298.03V314.12M530.65 298.05V314.13M530.93 298.07V314.14M531.21 298.09V314.16M531.49 298.11V314.17M531.77 298.13V314.18M532.05 298.15V314.19M532.33 298.17V314.21M532.61 298.20V314.22M532.89 298.22V314.23M533.17 298.24V314.24M533.45 298.26V314.26M533.73 298.28V314.27M534.02 298.30V314.28M534.30 298.32V314.30M534.58 298.34V314.31M534.86 298.36V314.32M535.14 298.39V314.33M535.42 298.41V314.35M535.70 298.43V314.36M535.98 298.45V314.37M536.26 298.47V314.38M536.54 298.49V314.40M536.82 298.51V314.41M537.10 298.53V314.42M537.38 298.55V314.44M537.66 298.57V314.45M537.94 298.60V314.46M538.22 298.62V314.47M538.50 298.64V314.49M538.78 298.66V314.50M539.06 298.68V314.51M539.34 298.70V314.52M539.62 298.72V314.54M539.90 298.74V314.55M540.18 298.77V314.56M540.46 298.79V314.58M540.75 298.82V314.59M541.03 298.84V314.60M541.31 298.86V314.61M541.59 298.89V314.63M541.87 298.91V314.64M542.15 298.94V314.65M542.43 298.96V314.66M542.71 298.99V314.68M542.99 299.01V314.69M543.27 299.04V314.70M543.55 299.06V314.72M543.83 299.09V314.73M544.11 299.11V314.74M544.39 299.13V314.75M544.67 299.16V314.77M544.95 299.18V314.78M545.23 299.21V314.79M545.51 299.23V314.81M545.79 299.26V314.82M546.07 299.28V314.83M546.35 299.31V314.84M546.63 299.33V314.86M546.91 299.35V314.87M547.19 299.38V314.88M547.48 299.40V314.89M547.76 299.43V314.91M548.04 299.45V314.92M548.32 299.48V314.93M548.60 299.50V314.95M548.88 299.53V314.96M549.16 299.55V314.97M549.44 299.58V314.98M549.72 299.60V315.00M550.00 299.62V315.01M550.28 299.65V315.02M550.56 299.67V315.03M550.84 299.70V315.05M551.12 299.72V315.06M551.40 299.75V315.07M551.68 299.77V315.09M551.96 299.80V315.10M552.24 299.82V315.11M552.52 299.85V315.13M552.80 299.87V315.14M553.08 299.89V315.16M553.36 299.92V315.17M553.64 299.94V315.19M553.92 299.97V315.20M554.20 299.99V315.22M554.49 300.02V315.23M554.77 300.04V315.25M555.05 300.07V315.26M555.33 300.09V315.28M555.61 300.12V315.29M555.89 300.14V315.31M556.17 300.16V315.32M556.45 300.19V315.34M556.73 300.21V315.35M557.01 300.24V315.37M557.29 300.26V315.38M557.57 300.29V315.40M557.85 300.31V315.42M558.13 300.34V315.43M558.41 300.36V315.45M558.69 300.39V315.46M558.97 300.41V315.48M559.25 300.43V315.49M559.53 300.46V315.51M559.81 300.48V315.52M560.09 300.51V315.54M560.37 300.55V315.55M560.65 300.58V315.57M560.93 300.62V315.58M561.22 300.65V315.60M561.50 300.69V315.61M561.78 300.72V315.63M562.06 300.76V315.64M562.34 300.79V315.66M562.62 300.83V315.67M562.90 300.86V315.69M563.18 300.90V315.70M563.46 300.93V315.72M563.74 300.97V315.73M564.02 301.00V315.75M564.30 301.04V315.76M564.58 301.07V315.78M564.86 301.11V315.79M565.14 301.14V315.81M565.42 301.18V315.83M565.70 301.21V315.84M565.98 301.25V315.86M566.26 301.28V315.88M566.54 301.32V315.89M566.82 301.35V315.91M567.10 301.39V315.93M567.38 301.42V315.94M567.66 301.46V315.96M567.95 301.49V315.98M568.23 301.53V315.99M568.51 301.56V316.01M568.79 301.60V316.03M569.07 301.63V316.04M569.35 301.67V316.06M569.63 301.70V316.08M569.91 301.74V316.09M570.19 301.77V316.11M570.47 301.81V316.13M570.75 301.84V316.14M571.03 301.88V316.16M571.31 301.91V316.18M571.59 301.95V316.20M571.87 301.98V316.21M572.15 302.02V316.23M572.43 302.05V316.25M572.71 302.09V316.26M572.99 302.12V316.28M573.27 302.16V316.30M573.55 302.19V316.31M573.83 302.23V316.33M574.11 302.26V316.35M574.39 302.30V316.36M574.67 302.33V316.38M574.96 302.37V316.40M575.24 302.40V316.41M575.52 302.44V316.43M575.80 302.47V316.45M576.08 302.51V316.46M576.36 302.54V316.48M576.64 302.58V316.50M576.92 302.61V316.52M577.20 302.65V316.53M577.48 302.68V316.55M577.76 302.72V316.57M578.04 302.75V316.58M578.32 302.79V316.60M578.60 302.83V316.62M578.88 302.86V316.63M579.16 302.90V316.65M579.44 302.93V316.67M579.72 302.97V316.68M580.00 303.00V316.70M580.28 303.04V316.72M580.56 303.07V316.75M580.84 303.11V316.77M581.12 303.14V316.80M581.40 303.18V316.82M581.69 303.21V316.84M581.97 303.25V316.87M582.25 303.28V316.89M582.53 303.32V316.91M582.81 303.35V316.94M583.09 303.39V316.96M583.37 303.42V316.99M583.65 303.46V317.01M583.93 303.49V317.03M584.21 303.53V317.06M584.49 303.56V317.08M584.77 303.60V317.11M585.05 303.63V317.13M585.33 303.67V317.15M585.61 303.70V317.18M585.89 303.74V317.20M586.17 303.77V317.22M586.45 303.81V317.25M586.73 303.84V317.27M587.01 303.88V317.30M587.29 303.91V317.32M587.57 303.95V317.34M587.85 303.98V317.37M588.13 304.02V317.39M588.42 304.05V317.42M588.70 304.09V317.44M588.98 304.12V317.46M589.26 304.16V317.49M589.54 304.19V317.51M589.82 304.23V317.53M590.10 304.26V317.56M590.38 304.30V317.58M590.66 304.33V317.61M590.94 304.37V317.63M591.22 304.40V317.65M591.50 304.44V317.68M591.78 304.47V317.70M592.06 304.51V317.73M592.34 304.54V317.75M592.62 304.58V317.77M592.90 304.61V317.80M593.18 304.65V317.82M593.46 304.68V317.84M593.74 304.72V317.87M594.02 304.75V317.89M594.30 304.79V317.92M594.58 304.82V317.94M594.86 304.86V317.96M595.14 304.89V317.99M595.43 304.93V318.01M595.71 304.96V318.03M595.99 305.00V318.06M596.27 305.03V318.08M596.55 305.07V318.11M596.83 305.10V318.13M597.11 305.14V318.15M597.39 305.17V318.18M597.67 305.21V318.20M597.95 305.24V318.23M598.23 305.28V318.25M598.51 305.31V318.27M598.79 305.35V318.30M599.07 305.38V318.32M599.35 305.42V318.34M599.63 305.45V318.37M599.91 305.49V318.39M600.19 305.53V318.42M600.47 305.57V318.44M600.75 305.61V318.46M601.03 305.64V318.49M601.31 305.68V318.51M601.59 305.72V318.54M601.87 305.76V318.56M602.16 305.80V318.58M602.44 305.84V318.61M602.72 305.88V318.63M603.00 305.92V318.65M603.28 305.96V318.68M603.56 306.00V318.70M603.84 306.04V318.73M604.12 306.08V318.75M604.40 306.12V318.77M604.68 306.16V318.80M604.96 306.19V318.82M605.24 306.23V318.85M605.52 306.27V318.87M605.80 306.31V318.89M606.08 306.35V318.92M606.36 306.39V318.94M606.64 306.43V318.96M606.92 306.47V318.99M607.20 306.51V319.01M607.48 306.55V319.04M607.76 306.59V319.06M608.04 306.63V319.08M608.32 306.67V319.11M608.60 306.70V319.13M608.88 306.74V319.16M609.17 306.78V319.18M609.45 306.82V319.20M609.73 306.86V319.23M610.01 306.90V319.25M610.29 306.94V319.27M610.57 306.98V319.30M610.85 307.02V319.32M611.13 307.06V319.35M611.41 307.10V319.37M611.69 307.14V319.39M611.97 307.18V319.42M612.25 307.21V319.44M612.53 307.25V319.47M612.81 307.29V319.49M613.09 307.33V319.51M613.37 307.37V319.54M613.65 307.41V319.56M613.93 307.45V319.58M614.21 307.49V319.61M614.49 307.53V319.63M614.77 307.57V319.66M615.05 307.61V319.68M615.33 307.65V319.70M615.61 307.69V319.73M615.90 307.73V319.75M616.18 307.76V319.77M616.46 307.80V319.80M616.74 307.84V319.82M617.02 307.88V319.85M617.30 307.92V319.87M617.58 307.96V319.89M617.86 308.00V319.92M618.14 308.04V319.94M618.42 308.08V319.97M618.70 308.12V319.99M618.98 308.16V320.01M619.26 308.20V320.04M619.54 308.24V320.06M619.82 308.27V320.08M620.10 308.31V320.12M620.38 308.35V320.17M620.66 308.39V320.23M620.94 308.42V320.28M621.22 308.46V320.33M621.50 308.50V320.39M621.78 308.53V320.44M622.06 308.57V320.49M622.34 308.60V320.55M622.63 308.64V320.60M622.91 308.68V320.65M623.19 308.71V320.71M623.47 308.75V320.76M623.75 308.79V320.81M624.03 308.82V320.87M624.31 308.86V320.92M624.59 308.90V320.97M624.87 308.93V321.02M625.15 308.97V321.08M625.43 309.01V321.13M625.71 309.04V321.18M625.99 309.08V321.24M626.27 309.12V321.29M626.55 309.15V321.34M626.83 309.19V321.40M627.11 309.22V321.45M627.39 309.26V321.50M627.67 309.30V321.56M627.95 309.33V321.61M628.23 309.37V321.66M628.51 309.41V321.72M628.79 309.44V321.77M629.07 309.48V321.82M629.35 309.52V321.88M629.64 309.55V321.93M629.92 309.59V321.98M630.20 309.61V322.03M630.48 309.63V322.07M630.76 309.66V322.11M631.04 309.68V322.15M631.32 309.70V322.19M631.60 309.72V322.23M631.88 309.74V322.28M632.16 309.76V322.32M632.44 309.78V322.36M632.72 309.80V322.40M633.00 309.82V322.44M633.28 309.84V322.48M633.56 309.86V322.52M633.84 309.88V322.56M634.12 309.90V322.60M634.40 309.92V322.65M634.68 309.94V322.69M634.96 309.96V322.73M635.24 309.98V322.77M635.52 310.01V322.81M635.80 310.03V322.85M636.08 310.05V322.89M636.37 310.07V322.93M636.65 310.09V322.97M636.93 310.11V323.02M637.21 310.13V323.06M637.49 310.15V323.10M637.77 310.20V323.15M638.05 310.25V323.21M638.33 310.30V323.27M638.61 310.35V323.32M638.89 310.40V323.38M639.17 310.45V323.43M639.45 310.50V323.49M639.73 310.55V323.55M640.01 310.60V323.60M640.29 310.65V323.66M640.57 310.70V323.71M640.85 310.75V323.77M641.13 310.80V323.83M641.41 310.85V323.88M641.69 310.90V323.94M641.97 310.96V323.99M642.25 311.01V324.05M642.53 311.06V324.11M642.81 311.11V324.16M643.10 311.16V324.22M643.38 311.21V324.28M643.66 311.26V324.33M643.94 311.31V324.39M644.22 311.36V324.44M644.50 311.41V324.50M644.78 311.46V324.56M645.06 311.51V324.61M645.34 311.54V324.67M645.62 311.57V324.72M645.90 311.61V324.78M646.18 311.64V324.84M646.46 311.68V324.89M646.74 311.71V324.95M647.02 311.74V325.00M647.30 311.78V325.06M647.58 311.81V325.12M647.86 311.84V325.17M648.14 311.88V325.23M648.42 311.91V325.28M648.70 311.94V325.34M648.98 311.98V325.40M649.26 312.01V325.45M649.54 312.05V325.51M649.82 312.08V325.56M650.11 312.11V325.62M650.39 312.15V325.68M650.67 312.18V325.73M650.95 312.21V325.79M651.23 312.25V325.85M651.51 312.28V325.90M651.79 312.31V325.96M652.07 312.35V326.01M652.35 312.38V326.07M652.63 312.41V326.13M652.91 312.42V326.20M653.19 312.43V326.27M653.47 312.44V326.35M653.75 312.45V326.42M654.03 312.46V326.49M654.31 312.47V326.56M654.59 312.48V326.63M654.87 312.49V326.70M655.15 312.21V325.78M655.43 312.24V325.84M655.71 312.28V325.89M655.99 312.31V325.95M656.27 312.34V326.00M656.55 312.38V326.06M656.84 312.40V326.12M657.12 312.41V326.19M657.40 312.43V326.26M657.68 312.44V326.33M657.96 312.45V326.41M658.24 312.46V326.48M658.52 312.47V326.55M658.80 312.48V326.62M659.08 312.49V326.69M659.36 312.50V326.76M659.64 312.52V326.83M659.92 312.53V326.90M660.20 312.54V326.97M660.48 312.55V327.05M660.76 312.56V327.12M661.04 312.57V327.19M661.32 312.58V327.26M661.60 312.59V327.33M661.88 312.61V327.40M662.16 312.62V327.47M662.44 312.63V327.54M662.72 312.64V327.61M663.00 312.65V327.68M663.28 312.66V327.76M663.57 312.67V327.83M663.85 312.68V327.90M664.13 312.70V327.97M664.41 312.71V328.04M664.69 312.72V328.11M664.97 312.73V328.18M665.25 312.74V328.25M665.53 312.75V328.32M665.81 312.76V328.39M666.09 312.77V328.47M666.37 312.78V328.54M666.65 312.80V328.61M666.93 312.81V328.68M667.21 312.82V328.75M667.49 312.83V328.82M667.77 312.84V328.89M668.05 312.85V328.96M668.33 312.86V329.03M668.61 312.87V329.11M668.89 312.89V329.18M669.17 312.90V329.25M669.45 312.91V329.32M669.73 312.92V329.39M670.01 312.93V329.46M670.29 312.94V329.53M670.58 312.95V329.60M670.86 312.96V329.67M671.14 312.98V329.74M671.42 312.99V329.82M671.70 313.00V329.89M671.98 312.99V329.97M672.26 312.97V330.05M672.54 312.96V330.13M672.82 312.94V330.21M673.10 312.93V330.30M673.38 312.91V330.38M673.66 312.90V330.46M673.94 312.88V330.54M674.22 312.87V330.62M674.50 312.85V330.71M674.78 312.84V330.79M675.06 312.82V330.87M675.34 312.81V330.95M675.62 312.78V331.06M675.90 312.74V331.20M676.18 312.70V331.35M676.46 312.66V331.49M676.74 312.62V331.63M677.02 312.58V331.77M677.31 312.54V331.91M677.59 312.49V332.06M677.87 312.45V332.20M678.15 312.41V332.34M678.43 312.37V332.48M678.71 312.33V332.63M678.99 312.29V332.77M679.27 312.24V332.92M679.55 312.10V333.17M679.83 311.96V333.42M680.11 311.83V333.67M680.39 311.69V333.92M680.67 311.55V334.17M680.95 311.41V334.42M681.23 311.27V334.67M681.51 311.13V334.92M681.79 311.00V335.17M682.07 310.86V335.42M682.35 310.72V335.67M682.63 310.58V335.92M682.91 310.44V336.17M683.19 310.17V336.51M683.47 309.65V336.88M683.75 309.02V337.26M684.04 308.32V337.63M684.32 307.53V338.00M684.60 306.65V338.75M684.88 305.64V339.85M685.16 304.49V341.09M685.44 303.18V342.51M685.72 301.66V344.13M686.00 299.89V345.99M686.28 297.68V348.29M686.56 294.66V351.42M686.84 290.15V356.02M687.12 282.36V363.90M687.40 263.59V382.77" stroke-width="1.39"/><path d="M151.33 -18.5h8.34M151.33 601.5h8.34M151.33 176.5h8.34M151.33 406.5h8.34M151.33 206.5h8.34M151.33 375.5h8.34M152.33 221.5h8.34M152.33 360.5h8.34M152.33 230.5h8.34M152.33 352.5h8.34M152.33 236.5h8.34M152.33 345.5h8.34M153.33 241.5h8.34M153.33 341.5h8.34M153.33 244.5h8.34M153.33 337.5h8.34M153.33 247.5h8.34M153.33 334.5h8.34M153.33 250.5h8.34M153.33 332.5h8.34M154.33 252.5h8.34M154.33 330.5h8.34M154.33 254.5h8.34M154.33 328.5h8.34M154.33 256.5h8.34M154.33 326.5h8.34M155.33 258.5h8.34M155.33 324.5h8.34M155.33 260.5h8.34M155.33 322.5h8.34M155.33 262.5h8.34M155.33 320.5h8.34M155.33 263.5h8.34M155.33 318.5h8.34M156.33 265.5h8.34M156.33 317.5h8.34M156.33 266.5h8.34M156.33 315.5h8.34M156.33 267.5h8.34M156.33 314.5h8.34M157.33 267.5h8.34M157.33 314.5h8.34M157.33 268.5h8.34M157.33 313.5h8.34M157.33 268.5h8.34M157.33 313.5h8.34M157.33 268.5h8.34M157.33 313.5h8.34M158.33 269.5h8.34M158.33 312.5h8.34M158.33 269.5h8.34M158.33 312.5h8.34M158.33 269.5h8.34M158.33 312.5h8.34M158.33 270.5h8.34M158.33 311.5h8.34M159.33 270.5h8.34M159.33 311.5h8.34M159.33 270.5h8.34M159.33 311.5h8.34M159.33 271.5h8.34M159.33 310.5h8.34M160.33 271.5h8.34M160.33 310.5h8.34M160.33 271.5h8.34M160.33 310.5h8.34M160.33 271.5h8.34M160.33 310.5h8.34M160.33 271.5h8.34M160.33 309.5h8.34M161.33 272.5h8.34M161.33 309.5h8.34M161.33 272.5h8.34M161.33 309.5h8.34M161.33 272.5h8.34M161.33 309.5h8.34M162.33 272.5h8.34M162.33 309.5h8.34M162.33 272.5h8.34M162.33 308.5h8.34M162.33 273.5h8.34M162.33 308.5h8.34M162.33 273.5h8.34M162.33 308.5h8.34M163.33 273.5h8.34M163.33 308.5h8.34M163.33 273.5h8.34M163.33 308.5h8.34M163.33 273.5h8.34M163.33 308.5h8.34M164.33 274.5h8.34M164.33 307.5h8.34M164.33 274.5h8.34M164.33 307.5h8.34M164.33 274.5h8.34M164.33 307.5h8.34M164.33 274.5h8.34M164.33 307.5h8.34M165.33 274.5h8.34M165.33 307.5h8.34M165.33 274.5h8.34M165.33 307.5h8.34M165.33 275.5h8.34M165.33 307.5h8.34M165.33 275.5h8.34M165.33 307.5h8.34M166.33 275.5h8.34M166.33 306.5h8.34M166.33 275.5h8.34M166.33 306.5h8.34M166.33 275.5h8.34M166.33 306.5h8.34M167.33 275.5h8.34M167.33 306.5h8.34M167.33 276.5h8.34M167.33 306.5h8.34M167.33 276.5h8.34M167.33 306.5h8.34M167.33 276.5h8.34M167.33 306.5h8.34M168.33 276.5h8.34M168.33 306.5h8.34M168.33 276.5h8.34M168.33 306.5h8.34M168.33 276.5h8.34M168.33 306.5h8.34M169.33 276.5h8.34M169.33 305.5h8.34M169.33 276.5h8.34M169.33 305.5h8.34M169.33 276.5h8.34M169.33 305.5h8.34M169.33 276.5h8.34M169.33 305.5h8.34M170.33 277.5h8.34M170.33 305.5h8.34M170.33 277.5h8.34M170.33 305.5h8.34M170.33 277.5h8.34M170.33 305.5h8.34M171.33 277.5h8.34M171.33 305.5h8.34M171.33 277.5h8.34M171.33 305.5h8.34M171.33 277.5h8.34M171.33 305.5h8.34M171.33 277.5h8.34M171.33 305.5h8.34M172.33 277.5h8.34M172.33 304.5h8.34M172.33 277.5h8.34M172.33 304.5h8.34M172.33 277.5h8.34M172.33 304.5h8.34M172.33 277.5h8.34M172.33 304.5h8.34M173.33 278.5h8.34M173.33 304.5h8.34M173.33 278.5h8.34M173.33 304.5h8.34M173.33 278.5h8.34M173.33 304.5h8.34M174.33 278.5h8.34M174.33 304.5h8.34M174.33 278.5h8.34M174.33 304.5h8.34M174.33 278.5h8.34M174.33 304.5h8.34M174.33 278.5h8.34M174.33 304.5h8.34M175.33 278.5h8.34M175.33 304.5h8.34M175.33 278.5h8.34M175.33 304.5h8.34M175.33 278.5h8.34M175.33 304.5h8.34M176.33 278.5h8.34M176.33 304.5h8.34M176.33 278.5h8.34M176.33 304.5h8.34M176.33 278.5h8.34M176.33 303.5h8.34M176.33 278.5h8.34M176.33 303.5h8.34M177.33 278.5h8.34M177.33 303.5h8.34M177.33 278.5h8.34M177.33 303.5h8.34M177.33 278.5h8.34M177.33 303.5h8.34M178.33 278.5h8.34M178.33 303.5h8.34M178.33 278.5h8.34M178.33 303.5h8.34M178.33 279.5h8.34M178.33 303.5h8.34M178.33 279.5h8.34M178.33 303.5h8.34M179.33 279.5h8.34M179.33 303.5h8.34M179.33 279.5h8.34M179.33 303.5h8.34M179.33 279.5h8.34M179.33 303.5h8.34M180.33 279.5h8.34M180.33 303.5h8.34M180.33 279.5h8.34M180.33 303.5h8.34M180.33 279.5h8.34M180.33 303.5h8.34M180.33 279.5h8.34M180.33 303.5h8.34M181.33 279.5h8.34M181.33 303.5h8.34M181.33 279.5h8.34M181.33 303.5h8.34M181.33 279.5h8.34M181.33 303.5h8.34M181.33 279.5h8.34M181.33 303.5h8.34M182.33 279.5h8.34M182.33 303.5h8.34M182.33 279.5h8.34M182.33 303.5h8.34M182.33 279.5h8.34M182.33 303.5h8.34M183.33 279.5h8.34M183.33 303.5h8.34M183.33 279.5h8.34M183.33 303.5h8.34M183.33 279.5h8.34M183.33 303.5h8.34M183.33 279.5h8.34M183.33 302.5h8.34M184.33 279.5h8.34M184.33 302.5h8.34M184.33 279.5h8.34M184.33 302.5h8.34M184.33 280.5h8.34M184.33 302.5h8.34M185.33 280.5h8.34M185.33 302.5h8.34M185.33 280.5h8.34M185.33 302.5h8.34M185.33 280.5h8.34M185.33 302.5h8.34M185.33 280.5h8.34M185.33 302.5h8.34M186.33 280.5h8.34M186.33 302.5h8.34M186.33 280.5h8.34M186.33 302.5h8.34M186.33 280.5h8.34M186.33 302.5h8.34M187.33 280.5h8.34M187.33 302.5h8.34M187.33 280.5h8.34M187.33 302.5h8.34M187.33 280.5h8.34M187.33 302.5h8.34M187.33 280.5h8.34M187.33 302.5h8.34M188.33 280.5h8.34M188.33 302.5h8.34M188.33 280.5h8.34M188.33 302.5h8.34M188.33 280.5h8.34M188.33 302.5h8.34M188.33 280.5h8.34M188.33 302.5h8.34M189.33 280.5h8.34M189.33 302.5h8.34M189.33 280.5h8.34M189.33 302.5h8.34M189.33 280.5h8.34M189.33 302.5h8.34M190.33 280.5h8.34M190.33 302.5h8.34M190.33 280.5h8.34M190.33 302.5h8.34M190.33 280.5h8.34M190.33 302.5h8.34M190.33 280.5h8.34M190.33 302.5h8.34M191.33 280.5h8.34M191.33 302.5h8.34M191.33 280.5h8.34M191.33 302.5h8.34M191.33 280.5h8.34M191.33 302.5h8.34M192.33 280.5h8.34M192.33 302.5h8.34M192.33 280.5h8.34M192.33 302.5h8.34M192.33 280.5h8.34M192.33 302.5h8.34M192.33 280.5h8.34M192.33 302.5h8.34M193.33 280.5h8.34M193.33 302.5h8.34M193.33 280.5h8.34M193.33 302.5h8.34M193.33 280.5h8.34M193.33 302.5h8.34M194.33 280.5h8.34M194.33 302.5h8.34M194.33 281.5h8.34M194.33 301.5h8.34M194.33 281.5h8.34M194.33 301.5h8.34M194.33 281.5h8.34M194.33 301.5h8.34M195.33 281.5h8.34M195.33 301.5h8.34M195.33 281.5h8.34M195.33 301.5h8.34M195.33 281.5h8.34M195.33 301.5h8.34M195.33 281.5h8.34M195.33 301.5h8.34M196.33 281.5h8.34M196.33 301.5h8.34M196.33 281.5h8.34M196.33 301.5h8.34M196.33 281.5h8.34M196.33 301.5h8.34M197.33 281.5h8.34M197.33 301.5h8.34M197.33 281.5h8.34M197.33 301.5h8.34M197.33 281.5h8.34M197.33 301.5h8.34M197.33 281.5h8.34M197.33 301.5h8.34M198.33 281.5h8.34M198.33 301.5h8.34M198.33 281.5h8.34M198.33 301.5h8.34M198.33 281.5h8.34M198.33 301.5h8.34M199.33 281.5h8.34M199.33 301.5h8.34M199.33 281.5h8.34M199.33 301.5h8.34M199.33 281.5h8.34M199.33 301.5h8.34M199.33 281.5h8.34M199.33 301.5h8.34M200.33 281.5h8.34M200.33 301.5h8.34M200.33 281.5h8.34M200.33 301.5h8.34M200.33 281.5h8.34M200.33 301.5h8.34M201.33 281.5h8.34M201.33 301.5h8.34M201.33 281.5h8.34M201.33 301.5h8.34M201.33 281.5h8.34M201.33 301.5h8.34M201.33 281.5h8.34M201.33 301.5h8.34M202.33 281.5h8.34M202.33 301.5h8.34M202.33 281.5h8.34M202.33 301.5h8.34M202.33 281.5h8.34M202.33 301.5h8.34M202.33 281.5h8.34M202.33 301.5h8.34M203.33 281.5h8.34M203.33 301.5h8.34M203.33 281.5h8.34M203.33 301.5h8.34M203.33 281.5h8.34M203.33 301.5h8.34M204.33 281.5h8.34M204.33 301.5h8.34M204.33 281.5h8.34M204.33 301.5h8.34M204.33 281.5h8.34M204.33 301.5h8.34M204.33 281.5h8.34M204.33 301.5h8.34M205.33 281.5h8.34M205.33 301.5h8.34M205.33 281.5h8.34M205.33 301.5h8.34M205.33 281.5h8.34M205.33 301.5h8.34M206.33 281.5h8.34M206.33 301.5h8.34M206.33 281.5h8.34M206.33 301.5h8.34M206.33 281.5h8.34M206.33 301.5h8.34M206.33 281.5h8.34M206.33 301.5h8.34M207.33 281.5h8.34M207.33 301.5h8.34M207.33 281.5h8.34M207.33 301.5h8.34M207.33 281.5h8.34M207.33 301.5h8.34M208.33 281.5h8.34M208.33 301.5h8.34M208.33 281.5h8.34M208.33 301.5h8.34M208.33 281.5h8.34M208.33 301.5h8.34M208.33 281.5h8.34M208.33 301.5h8.34M209.33 281.5h8.34M209.33 301.5h8.34M209.33 281.5h8.34M209.33 301.5h8.34M209.33 281.5h8.34M209.33 301.5h8.34M210.33 281.5h8.34M210.33 301.5h8.34M210.33 281.5h8.34M210.33 301.5h8.34M210.33 281.5h8.34M210.33 301.5h8.34M210.33 281.5h8.34M210.33 301.5h8.34M211.33 281.5h8.34M211.33 301.5h8.34M211.33 281.5h8.34M211.33 301.5h8.34M211.33 281.5h8.34M211.33 301.5h8.34M211.33 281.5h8.34M211.33 301.5h8.34M212.33 281.5h8.34M212.33 301.5h8.34M212.33 281.5h8.34M212.33 301.5h8.34M212.33 281.5h8.34M212.33 301.5h8.34M213.33 281.5h8.34M213.33 301.5h8.34M213.33 281.5h8.34M213.33 301.5h8.34M213.33 281.5h8.34M213.33 301.5h8.34M213.33 281.5h8.34M213.33 301.5h8.34M214.33 281.5h8.34M214.33 301.5h8.34M214.33 281.5h8.34M214.33 301.5h8.34M214.33 281.5h8.34M214.33 301.5h8.34M215.33 281.5h8.34M215.33 301.5h8.34M215.33 281.5h8.34M215.33 301.5h8.34M215.33 281.5h8.34M215.33 301.5h8.34M215.33 281.5h8.34M215.33 301.5h8.34M216.33 281.5h8.34M216.33 301.5h8.34M216.33 281.5h8.34M216.33 301.5h8.34M216.33 281.5h8.34M216.33 301.5h8.34M217.33 281.5h8.34M217.33 301.5h8.34M217.33 281.5h8.34M217.33 301.5h8.34M217.33 281.5h8.34M217.33 301.5h8.34M217.33 281.5h8.34M217.33 301.5h8.34M218.33 281.5h8.34M218.33 301.5h8.34M218.33 281.5h8.34M218.33 301.5h8.34M218.33 281.5h8.34M218.33 301.5h8.34M218.33 282.5h8.34M218.33 301.5h8.34M219.33 282.5h8.34M219.33 301.5h8.34M219.33 282.5h8.34M219.33 301.5h8.34M219.33 282.5h8.34M219.33 301.5h8.34M220.33 282.5h8.34M220.33 301.5h8.34M220.33 282.5h8.34M220.33 301.5h8.34M220.33 282.5h8.34M220.33 301.5h8.34M220.33 282.5h8.34M220.33 301.5h8.34M221.33 282.5h8.34M221.33 301.5h8.34M221.33 282.5h8.34M221.33 301.5h8.34M221.33 282.5h8.34M221.33 301.5h8.34M222.33 282.5h8.34M222.33 301.5h8.34M222.33 282.5h8.34M222.33 301.5h8.34M222.33 282.5h8.34M222.33 301.5h8.34M222.33 282.5h8.34M222.33 301.5h8.34M223.33 282.5h8.34M223.33 301.5h8.34M223.33 282.5h8.34M223.33 301.5h8.34M223.33 282.5h8.34M223.33 301.5h8.34M224.33 282.5h8.34M224.33 301.5h8.34M224.33 282.5h8.34M224.33 301.5h8.34M224.33 282.5h8.34M224.33 301.5h8.34M224.33 282.5h8.34M224.33 301.5h8.34M225.33 282.5h8.34M225.33 301.5h8.34M225.33 282.5h8.34M225.33 301.5h8.34M225.33 282.5h8.34M225.33 301.5h8.34M225.33 282.5h8.34M225.33 301.5h8.34M226.33 282.5h8.34M226.33 301.5h8.34M226.33 282.5h8.34M226.33 301.5h8.34M226.33 282.5h8.34M226.33 301.5h8.34M227.33 282.5h8.34M227.33 301.5h8.34M227.33 282.5h8.34M227.33 301.5h8.34M227.33 282.5h8.34M227.33 301.5h8.34M227.33 282.5h8.34M227.33 301.5h8.34M228.33 282.5h8.34M228.33 301.5h8.34M228.33 282.5h8.34M228.33 301.5h8.34M228.33 282.5h8.34M228.33 301.5h8.34M229.33 282.5h8.34M229.33 301.5h8.34M229.33 282.5h8.34M229.33 301.5h8.34M229.33 282.5h8.34M229.33 301.5h8.34M229.33 282.5h8.34M229.33 301.5h8.34M230.33 282.5h8.34M230.33 301.5h8.34M230.33 282.5h8.34M230.33 301.5h8.34M230.33 282.5h8.34M230.33 301.5h8.34M231.33 282.5h8.34M231.33 301.5h8.34M231.33 282.5h8.34M231.33 301.5h8.34M231.33 282.5h8.34M231.33 301.5h8.34M231.33 282.5h8.34M231.33 301.5h8.34M232.33 282.5h8.34M232.33 301.5h8.34M232.33 282.5h8.34M232.33 301.5h8.34M232.33 282.5h8.34M232.33 301.5h8.34M232.33 282.5h8.34M232.33 301.5h8.34M233.33 282.5h8.34M233.33 301.5h8.34M233.33 282.5h8.34M233.33 301.5h8.34M233.33 282.5h8.34M233.33 301.5h8.34M234.33 282.5h8.34M234.33 301.5h8.34M234.33 282.5h8.34M234.33 301.5h8.34M234.33 282.5h8.34M234.33 301.5h8.34M234.33 282.5h8.34M234.33 301.5h8.34M235.33 282.5h8.34M235.33 301.5h8.34M235.33 282.5h8.34M235.33 301.5h8.34M235.33 282.5h8.34M235.33 301.5h8.34M236.33 282.5h8.34M236.33 301.5h8.34M236.33 282.5h8.34M236.33 301.5h8.34M236.33 282.5h8.34M236.33 301.5h8.34M236.33 282.5h8.34M236.33 301.5h8.34M237.33 282.5h8.34M237.33 301.5h8.34M237.33 282.5h8.34M237.33 301.5h8.34M237.33 282.5h8.34M237.33 301.5h8.34M238.33 282.5h8.34M238.33 301.5h8.34M238.33 282.5h8.34M238.33 301.5h8.34M238.33 282.5h8.34M238.33 301.5h8.34M238.33 282.5h8.34M238.33 301.5h8.34M239.33 282.5h8.34M239.33 301.5h8.34M239.33 282.5h8.34M239.33 301.5h8.34M239.33 282.5h8.34M239.33 301.5h8.34M240.33 282.5h8.34M240.33 301.5h8.34M240.33 282.5h8.34M240.33 301.5h8.34M240.33 282.5h8.34M240.33 301.5h8.34M240.33 282.5h8.34M240.33 301.5h8.34M241.33 282.5h8.34M241.33 301.5h8.34M241.33 282.5h8.34M241.33 301.5h8.34M241.33 282.5h8.34M241.33 301.5h8.34M241.33 282.5h8.34M241.33 301.5h8.34M242.33 282.5h8.34M242.33 301.5h8.34M242.33 282.5h8.34M242.33 301.5h8.34M242.33 282.5h8.34M242.33 301.5h8.34M243.33 282.5h8.34M243.33 301.5h8.34M243.33 282.5h8.34M243.33 301.5h8.34M243.33 282.5h8.34M243.33 301.5h8.34M243.33 282.5h8.34M243.33 301.5h8.34M244.33 282.5h8.34M244.33 301.5h8.34M244.33 282.5h8.34M244.33 301.5h8.34M244.33 282.5h8.34M244.33 301.5h8.34M245.33 282.5h8.34M245.33 301.5h8.34M245.33 282.5h8.34M245.33 301.5h8.34M245.33 282.5h8.34M245.33 301.5h8.34M245.33 282.5h8.34M245.33 301.5h8.34M246.33 282.5h8.34M246.33 301.5h8.34M246.33 282.5h8.34M246.33 301.5h8.34M246.33 283.5h8.34M246.33 301.5h8.34M247.33 283.5h8.34M247.33 301.5h8.34M247.33 283.5h8.34M247.33 301.5h8.34M247.33 283.5h8.34M247.33 301.5h8.34M247.33 283.5h8.34M247.33 301.5h8.34M248.33 283.5h8.34M248.33 301.5h8.34M248.33 283.5h8.34M248.33 301.5h8.34M248.33 283.5h8.34M248.33 301.5h8.34M248.33 283.5h8.34M248.33 301.5h8.34M249.33 283.5h8.34M249.33 301.5h8.34M249.33 283.5h8.34M249.33 301.5h8.34M249.33 283.5h8.34M249.33 301.5h8.34M250.33 283.5h8.34M250.33 301.5h8.34M250.33 283.5h8.34M250.33 301.5h8.34M250.33 283.5h8.34M250.33 301.5h8.34M250.33 283.5h8.34M250.33 301.5h8.34M251.33 283.5h8.34M251.33 301.5h8.34M251.33 283.5h8.34M251.33 301.5h8.34M251.33 283.5h8.34M251.33 301.5h8.34M252.33 283.5h8.34M252.33 301.5h8.34M252.33 283.5h8.34M252.33 301.5h8.34M252.33 283.5h8.34M252.33 301.5h8.34M252.33 283.5h8.34M252.33 301.5h8.34M253.33 283.5h8.34M253.33 301.5h8.34M253.33 283.5h8.34M253.33 301.5h8.34M253.33 283.5h8.34M253.33 301.5h8.34M254.33 283.5h8.34M254.33 301.5h8.34M254.33 283.5h8.34M254.33 301.5h8.34M254.33 283.5h8.34M254.33 301.5h8.34M254.33 283.5h8.34M254.33 302.5h8.34M255.33 283.5h8.34M255.33 302.5h8.34M255.33 283.5h8.34M255.33 302.5h8.34M255.33 283.5h8.34M255.33 302.5h8.34M255.33 283.5h8.34M255.33 302.5h8.34M256.33 283.5h8.34M256.33 302.5h8.34M256.33 283.5h8.34M256.33 302.5h8.34M256.33 283.5h8.34M256.33 302.5h8.34M257.33 283.5h8.34M257.33 302.5h8.34M257.33 283.5h8.34M257.33 302.5h8.34M257.33 283.5h8.34M257.33 302.5h8.34M257.33 283.5h8.34M257.33 302.5h8.34M258.33 283.5h8.34M258.33 302.5h8.34M258.33 283.5h8.34M258.33 302.5h8.34M258.33 283.5h8.34M258.33 302.5h8.34M259.33 283.5h8.34M259.33 302.5h8.34M259.33 283.5h8.34M259.33 302.5h8.34M259.33 283.5h8.34M259.33 302.5h8.34M259.33 283.5h8.34M259.33 302.5h8.34M260.33 283.5h8.34M260.33 302.5h8.34M260.33 283.5h8.34M260.33 302.5h8.34M260.33 283.5h8.34M260.33 302.5h8.34M261.33 283.5h8.34M261.33 302.5h8.34M261.33 283.5h8.34M261.33 302.5h8.34M261.33 283.5h8.34M261.33 302.5h8.34M261.33 283.5h8.34M261.33 302.5h8.34M262.33 283.5h8.34M262.33 302.5h8.34M262.33 283.5h8.34M262.33 302.5h8.34M262.33 283.5h8.34M262.33 302.5h8.34M263.33 283.5h8.34M263.33 302.5h8.34M263.33 283.5h8.34M263.33 302.5h8.34M263.33 283.5h8.34M263.33 302.5h8.34M263.33 283.5h8.34M263.33 302.5h8.34M264.33 283.5h8.34M264.33 302.5h8.34M264.33 283.5h8.34M264.33 302.5h8.34M264.33 283.5h8.34M264.33 302.5h8.34M264.33 283.5h8.34M264.33 302.5h8.34M265.33 283.5h8.34M265.33 302.5h8.34M265.33 283.5h8.34M265.33 302.5h8.34M265.33 283.5h8.34M265.33 302.5h8.34M266.33 283.5h8.34M266.33 302.5h8.34M266.33 283.5h8.34M266.33 302.5h8.34M266.33 284.5h8.34M266.33 302.5h8.34M266.33 284.5h8.34M266.33 302.5h8.34M267.33 284.5h8.34M267.33 302.5h8.34M267.33 284.5h8.34M267.33 302.5h8.34M267.33 284.5h8.34M267.33 302.5h8.34M268.33 284.5h8.34M268.33 303.5h8.34M268.33 284.5h8.34M268.33 303.5h8.34M268.33 284.5h8.34M268.33 303.5h8.34M268.33 284.5h8.34M268.33 303.5h8.34M269.33 284.5h8.34M269.33 303.5h8.34M269.33 284.5h8.34M269.33 303.5h8.34M269.33 284.5h8.34M269.33 303.5h8.34M270.33 284.5h8.34M270.33 303.5h8.34M270.33 284.5h8.34M270.33 303.5h8.34M270.33 284.5h8.34M270.33 303.5h8.34M270.33 284.5h8.34M270.33 303.5h8.34M271.33 284.5h8.34M271.33 303.5h8.34M271.33 284.5h8.34M271.33 303.5h8.34M271.33 284.5h8.34M271.33 303.5h8.34M271.33 284.5h8.34M271.33 303.5h8.34M272.33 284.5h8.34M272.33 303.5h8.34M272.33 284.5h8.34M272.33 303.5h8.34M272.33 284.5h8.34M272.33 303.5h8.34M273.33 284.5h8.34M273.33 303.5h8.34M273.33 284.5h8.34M273.33 303.5h8.34M273.33 284.5h8.34M273.33 303.5h8.34M273.33 284.5h8.34M273.33 303.5h8.34M274.33 284.5h8.34M274.33 303.5h8.34M274.33 284.5h8.34M274.33 303.5h8.34M274.33 284.5h8.34M274.33 303.5h8.34M275.33 284.5h8.34M275.33 303.5h8.34M275.33 284.5h8.34M275.33 303.5h8.34M275.33 284.5h8.34M275.33 303.5h8.34M275.33 284.5h8.34M275.33 303.5h8.34M276.33 284.5h8.34M276.33 303.5h8.34M276.33 284.5h8.34M276.33 303.5h8.34M276.33 284.5h8.34M276.33 303.5h8.34M277.33 284.5h8.34M277.33 303.5h8.34M277.33 284.5h8.34M277.33 303.5h8.34M277.33 284.5h8.34M277.33 303.5h8.34M277.33 284.5h8.34M277.33 303.5h8.34M278.33 284.5h8.34M278.33 303.5h8.34M278.33 284.5h8.34M278.33 303.5h8.34M278.33 284.5h8.34M278.33 303.5h8.34M278.33 284.5h8.34M278.33 303.5h8.34M279.33 284.5h8.34M279.33 303.5h8.34M279.33 284.5h8.34M279.33 303.5h8.34M279.33 284.5h8.34M279.33 303.5h8.34M280.33 284.5h8.34M280.33 303.5h8.34M280.33 284.5h8.34M280.33 303.5h8.34M280.33 284.5h8.34M280.33 303.5h8.34M280.33 284.5h8.34M280.33 303.5h8.34M281.33 284.5h8.34M281.33 303.5h8.34M281.33 284.5h8.34M281.33 303.5h8.34M281.33 284.5h8.34M281.33 303.5h8.34M282.33 284.5h8.34M282.33 303.5h8.34M282.33 284.5h8.34M282.33 303.5h8.34M282.33 284.5h8.34M282.33 303.5h8.34M282.33 284.5h8.34M282.33 303.5h8.34M283.33 284.5h8.34M283.33 303.5h8.34M283.33 284.5h8.34M283.33 303.5h8.34M283.33 284.5h8.34M283.33 303.5h8.34M284.33 284.5h8.34M284.33 303.5h8.34M284.33 284.5h8.34M284.33 303.5h8.34M284.33 284.5h8.34M284.33 303.5h8.34M284.33 284.5h8.34M284.33 303.5h8.34M285.33 284.5h8.34M285.33 303.5h8.34M285.33 284.5h8.34M285.33 303.5h8.34M285.33 284.5h8.34M285.33 303.5h8.34M285.33 284.5h8.34M285.33 304.5h8.34M286.33 284.5h8.34M286.33 304.5h8.34M286.33 284.5h8.34M286.33 304.5h8.34M286.33 284.5h8.34M286.33 304.5h8.34M287.33 284.5h8.34M287.33 304.5h8.34M287.33 284.5h8.34M287.33 304.5h8.34M287.33 284.5h8.34M287.33 304.5h8.34M287.33 285.5h8.34M287.33 304.5h8.34M288.33 285.5h8.34M288.33 304.5h8.34M288.33 285.5h8.34M288.33 304.5h8.34M288.33 285.5h8.34M288.33 304.5h8.34M289.33 285.5h8.34M289.33 304.5h8.34M289.33 285.5h8.34M289.33 304.5h8.34M289.33 285.5h8.34M289.33 304.5h8.34M289.33 285.5h8.34M289.33 304.5h8.34M290.33 285.5h8.34M290.33 304.5h8.34M290.33 285.5h8.34M290.33 304.5h8.34M290.33 285.5h8.34M290.33 304.5h8.34M291.33 285.5h8.34M291.33 304.5h8.34M291.33 285.5h8.34M291.33 304.5h8.34M291.33 285.5h8.34M291.33 304.5h8.34M291.33 285.5h8.34M291.33 304.5h8.34M292.33 285.5h8.34M292.33 304.5h8.34M292.33 285.5h8.34M292.33 304.5h8.34M292.33 285.5h8.34M292.33 304.5h8.34M293.33 285.5h8.34M293.33 304.5h8.34M293.33 285.5h8.34M293.33 304.5h8.34M293.33 285.5h8.34M293.33 304.5h8.34M293.33 285.5h8.34M293.33 304.5h8.34M294.33 285.5h8.34M294.33 304.5h8.34M294.33 285.5h8.34M294.33 304.5h8.34M294.33 285.5h8.34M294.33 304.5h8.34M294.33 285.5h8.34M294.33 304.5h8.34M295.33 285.5h8.34M295.33 304.5h8.34M295.33 285.5h8.34M295.33 304.5h8.34M295.33 285.5h8.34M295.33 304.5h8.34M296.33 285.5h8.34M296.33 304.5h8.34M296.33 285.5h8.34M296.33 304.5h8.34M296.33 285.5h8.34M296.33 304.5h8.34M296.33 285.5h8.34M296.33 304.5h8.34M297.33 285.5h8.34M297.33 304.5h8.34M297.33 285.5h8.34M297.33 304.5h8.34M297.33 285.5h8.34M297.33 304.5h8.34M298.33 285.5h8.34M298.33 304.5h8.34M298.33 285.5h8.34M298.33 304.5h8.34M298.33 285.5h8.34M298.33 304.5h8.34M298.33 285.5h8.34M298.33 304.5h8.34M299.33 285.5h8.34M299.33 304.5h8.34M299.33 285.5h8.34M299.33 304.5h8.34M299.33 285.5h8.34M299.33 304.5h8.34M300.33 285.5h8.34M300.33 304.5h8.34M300.33 285.5h8.34M300.33 304.5h8.34M300.33 285.5h8.34M300.33 304.5h8.34M300.33 285.5h8.34M300.33 304.5h8.34M301.33 285.5h8.34M301.33 304.5h8.34M301.33 285.5h8.34M301.33 304.5h8.34M301.33 285.5h8.34M301.33 304.5h8.34M301.33 285.5h8.34M301.33 304.5h8.34M302.33 285.5h8.34M302.33 304.5h8.34M302.33 285.5h8.34M302.33 304.5h8.34M302.33 285.5h8.34M302.33 304.5h8.34M303.33 285.5h8.34M303.33 304.5h8.34M303.33 285.5h8.34M303.33 304.5h8.34M303.33 285.5h8.34M303.33 304.5h8.34M303.33 285.5h8.34M303.33 304.5h8.34M304.33 285.5h8.34M304.33 304.5h8.34M304.33 285.5h8.34M304.33 304.5h8.34M304.33 285.5h8.34M304.33 304.5h8.34M305.33 285.5h8.34M305.33 304.5h8.34M305.33 285.5h8.34M305.33 304.5h8.34M305.33 285.5h8.34M305.33 304.5h8.34M305.33 285.5h8.34M305.33 305.5h8.34M306.33 285.5h8.34M306.33 305.5h8.34M306.33 285.5h8.34M306.33 305.5h8.34M306.33 285.5h8.34M306.33 305.5h8.34M307.33 285.5h8.34M307.33 305.5h8.34M307.33 285.5h8.34M307.33 305.5h8.34M307.33 286.5h8.34M307.33 305.5h8.34M307.33 286.5h8.34M307.33 305.5h8.34M308.33 286.5h8.34M308.33 305.5h8.34M308.33 286.5h8.34M308.33 305.5h8.34M308.33 286.5h8.34M308.33 305.5h8.34M308.33 286.5h8.34M308.33 305.5h8.34M309.33 286.5h8.34M309.33 305.5h8.34M309.33 286.5h8.34M309.33 305.5h8.34M309.33 286.5h8.34M309.33 305.5h8.34M310.33 286.5h8.34M310.33 305.5h8.34M310.33 286.5h8.34M310.33 305.5h8.34M310.33 286.5h8.34M310.33 305.5h8.34M310.33 286.5h8.34M310.33 305.5h8.34M311.33 286.5h8.34M311.33 305.5h8.34M311.33 286.5h8.34M311.33 305.5h8.34M311.33 286.5h8.34M311.33 305.5h8.34M312.33 286.5h8.34M312.33 305.5h8.34M312.33 286.5h8.34M312.33 305.5h8.34M312.33 286.5h8.34M312.33 305.5h8.34M312.33 286.5h8.34M312.33 305.5h8.34M313.33 286.5h8.34M313.33 305.5h8.34M313.33 286.5h8.34M313.33 305.5h8.34M313.33 286.5h8.34M313.33 305.5h8.34M314.33 286.5h8.34M314.33 305.5h8.34M314.33 286.5h8.34M314.33 305.5h8.34M314.33 286.5h8.34M314.33 305.5h8.34M314.33 286.5h8.34M314.33 305.5h8.34M315.33 286.5h8.34M315.33 305.5h8.34M315.33 286.5h8.34M315.33 305.5h8.34M315.33 286.5h8.34M315.33 305.5h8.34M316.33 286.5h8.34M316.33 305.5h8.34M316.33 286.5h8.34M316.33 305.5h8.34M316.33 286.5h8.34M316.33 305.5h8.34M316.33 286.5h8.34M316.33 305.5h8.34M317.33 286.5h8.34M317.33 305.5h8.34M317.33 286.5h8.34M317.33 305.5h8.34M317.33 286.5h8.34M317.33 305.5h8.34M317.33 286.5h8.34M317.33 305.5h8.34M318.33 286.5h8.34M318.33 305.5h8.34M318.33 286.5h8.34M318.33 305.5h8.34M318.33 286.5h8.34M318.33 305.5h8.34M319.33 286.5h8.34M319.33 305.5h8.34M319.33 286.5h8.34M319.33 305.5h8.34M319.33 286.5h8.34M319.33 305.5h8.34M319.33 286.5h8.34M319.33 305.5h8.34M320.33 286.5h8.34M320.33 305.5h8.34M320.33 286.5h8.34M320.33 305.5h8.34M320.33 286.5h8.34M320.33 305.5h8.34M321.33 286.5h8.34M321.33 305.5h8.34M321.33 286.5h8.34M321.33 305.5h8.34M321.33 286.5h8.34M321.33 305.5h8.34M321.33 286.5h8.34M321.33 305.5h8.34M322.33 286.5h8.34M322.33 305.5h8.34M322.33 286.5h8.34M322.33 306.5h8.34M322.33 286.5h8.34M322.33 306.5h8.34M323.33 286.5h8.34M323.33 306.5h8.34M323.33 286.5h8.34M323.33 306.5h8.34M323.33 286.5h8.34M323.33 306.5h8.34M323.33 286.5h8.34M323.33 306.5h8.34M324.33 286.5h8.34M324.33 306.5h8.34M324.33 286.5h8.34M324.33 306.5h8.34M324.33 286.5h8.34M324.33 306.5h8.34M324.33 286.5h8.34M324.33 306.5h8.34M325.33 286.5h8.34M325.33 306.5h8.34M325.33 286.5h8.34M325.33 306.5h8.34M325.33 286.5h8.34M325.33 306.5h8.34M326.33 286.5h8.34M326.33 306.5h8.34M326.33 287.5h8.34M326.33 306.5h8.34M326.33 287.5h8.34M326.33 306.5h8.34M326.33 287.5h8.34M326.33 306.5h8.34M327.33 287.5h8.34M327.33 306.5h8.34M327.33 287.5h8.34M327.33 306.5h8.34M327.33 287.5h8.34M327.33 306.5h8.34M328.33 287.5h8.34M328.33 306.5h8.34M328.33 287.5h8.34M328.33 306.5h8.34M328.33 287.5h8.34M328.33 306.5h8.34M328.33 287.5h8.34M328.33 306.5h8.34M329.33 287.5h8.34M329.33 306.5h8.34M329.33 287.5h8.34M329.33 306.5h8.34M329.33 287.5h8.34M329.33 306.5h8.34M330.33 287.5h8.34M330.33 306.5h8.34M330.33 287.5h8.34M330.33 306.5h8.34M330.33 287.5h8.34M330.33 306.5h8.34M330.33 287.5h8.34M330.33 306.5h8.34M331.33 287.5h8.34M331.33 306.5h8.34M331.33 287.5h8.34M331.33 306.5h8.34M331.33 287.5h8.34M331.33 306.5h8.34M331.33 287.5h8.34M331.33 306.5h8.34M332.33 287.5h8.34M332.33 306.5h8.34M332.33 287.5h8.34M332.33 306.5h8.34M332.33 287.5h8.34M332.33 306.5h8.34M333.33 287.5h8.34M333.33 306.5h8.34M333.33 287.5h8.34M333.33 306.5h8.34M333.33 287.5h8.34M333.33 306.5h8.34M333.33 287.5h8.34M333.33 306.5h8.34M334.33 287.5h8.34M334.33 306.5h8.34M334.33 287.5h8.34M334.33 306.5h8.34M334.33 287.5h8.34M334.33 306.5h8.34M335.33 287.5h8.34M335.33 306.5h8.34M335.33 287.5h8.34M335.33 306.5h8.34M335.33 287.5h8.34M335.33 306.5h8.34M335.33 287.5h8.34M335.33 306.5h8.34M336.33 287.5h8.34M336.33 306.5h8.34M336.33 287.5h8.34M336.33 306.5h8.34M336.33 287.5h8.34M336.33 307.5h8.34M337.33 287.5h8.34M337.33 307.5h8.34M337.33 287.5h8.34M337.33 307.5h8.34M337.33 287.5h8.34M337.33 307.5h8.34M337.33 287.5h8.34M337.33 307.5h8.34M338.33 287.5h8.34M338.33 307.5h8.34M338.33 287.5h8.34M338.33 307.5h8.34M338.33 287.5h8.34M338.33 307.5h8.34M338.33 287.5h8.34M338.33 307.5h8.34M339.33 287.5h8.34M339.33 307.5h8.34M339.33 287.5h8.34M339.33 307.5h8.34M339.33 287.5h8.34M339.33 307.5h8.34M340.33 287.5h8.34M340.33 307.5h8.34M340.33 287.5h8.34M340.33 307.5h8.34M340.33 287.5h8.34M340.33 307.5h8.34M340.33 287.5h8.34M340.33 307.5h8.34M341.33 287.5h8.34M341.33 307.5h8.34M341.33 287.5h8.34M341.33 307.5h8.34M341.33 287.5h8.34M341.33 307.5h8.34M342.33 287.5h8.34M342.33 307.5h8.34M342.33 287.5h8.34M342.33 307.5h8.34M342.33 287.5h8.34M342.33 307.5h8.34M342.33 287.5h8.34M342.33 307.5h8.34M343.33 287.5h8.34M343.33 307.5h8.34M343.33 287.5h8.34M343.33 307.5h8.34M343.33 287.5h8.34M343.33 307.5h8.34M344.33 287.5h8.34M344.33 307.5h8.34M344.33 287.5h8.34M344.33 307.5h8.34M344.33 288.5h8.34M344.33 307.5h8.34M344.33 288.5h8.34M344.33 307.5h8.34M345.33 288.5h8.34M345.33 307.5h8.34M345.33 288.5h8.34M345.33 307.5h8.34M345.33 288.5h8.34M345.33 307.5h8.34M346.33 288.5h8.34M346.33 307.5h8.34M346.33 288.5h8.34M346.33 307.5h8.34M346.33 288.5h8.34M346.33 307.5h8.34M346.33 288.5h8.34M346.33 307.5h8.34M347.33 288.5h8.34M347.33 307.5h8.34M347.33 288.5h8.34M347.33 307.5h8.34M347.33 288.5h8.34M347.33 307.5h8.34M347.33 288.5h8.34M347.33 307.5h8.34M348.33 288.5h8.34M348.33 307.5h8.34M348.33 288.5h8.34M348.33 307.5h8.34M348.33 288.5h8.34M348.33 307.5h8.34M349.33 288.5h8.34M349.33 307.5h8.34M349.33 288.5h8.34M349.33 308.5h8.34M349.33 288.5h8.34M349.33 308.5h8.34M349.33 288.5h8.34M349.33 308.5h8.34M350.33 288.5h8.34M350.33 308.5h8.34M350.33 288.5h8.34M350.33 308.5h8.34M350.33 288.5h8.34M350.33 308.5h8.34M351.33 288.5h8.34M351.33 308.5h8.34M351.33 288.5h8.34M351.33 308.5h8.34M351.33 288.5h8.34M351.33 308.5h8.34M351.33 288.5h8.34M351.33 308.5h8.34M352.33 288.5h8.34M352.33 308.5h8.34M352.33 288.5h8.34M352.33 308.5h8.34M352.33 288.5h8.34M352.33 308.5h8.34M353.33 288.5h8.34M353.33 308.5h8.34M353.33 288.5h8.34M353.33 308.5h8.34M353.33 288.5h8.34M353.33 308.5h8.34M353.33 288.5h8.34M353.33 308.5h8.34M354.33 288.5h8.34M354.33 308.5h8.34M354.33 288.5h8.34M354.33 308.5h8.34M354.33 288.5h8.34M354.33 308.5h8.34M354.33 288.5h8.34M354.33 308.5h8.34M355.33 288.5h8.34M355.33 308.5h8.34M355.33 288.5h8.34M355.33 308.5h8.34M355.33 288.5h8.34M355.33 308.5h8.34M356.33 288.5h8.34M356.33 308.5h8.34M356.33 288.5h8.34M356.33 308.5h8.34M356.33 288.5h8.34M356.33 308.5h8.34M356.33 288.5h8.34M356.33 308.5h8.34M357.33 288.5h8.34M357.33 308.5h8.34M357.33 288.5h8.34M357.33 308.5h8.34M357.33 288.5h8.34M357.33 308.5h8.34M358.33 288.5h8.34M358.33 308.5h8.34M358.33 288.5h8.34M358.33 308.5h8.34M358.33 288.5h8.34M358.33 308.5h8.34M358.33 288.5h8.34M358.33 308.5h8.34M359.33 289.5h8.34M359.33 308.5h8.34M359.33 289.5h8.34M359.33 308.5h8.34M359.33 289.5h8.34M359.33 308.5h8.34M360.33 289.5h8.34M360.33 308.5h8.34M360.33 289.5h8.34M360.33 308.5h8.34M360.33 289.5h8.34M360.33 308.5h8.34M360.33 289.5h8.34M360.33 309.5h8.34M361.33 289.5h8.34M361.33 309.5h8.34M361.33 289.5h8.34M361.33 309.5h8.34M361.33 289.5h8.34M361.33 309.5h8.34M361.33 289.5h8.34M361.33 309.5h8.34M362.33 289.5h8.34M362.33 309.5h8.34M362.33 289.5h8.34M362.33 309.5h8.34M362.33 289.5h8.34M362.33 309.5h8.34M363.33 289.5h8.34M363.33 309.5h8.34M363.33 289.5h8.34M363.33 309.5h8.34M363.33 289.5h8.34M363.33 309.5h8.34M363.33 289.5h8.34M363.33 309.5h8.34M364.33 289.5h8.34M364.33 309.5h8.34M364.33 289.5h8.34M364.33 309.5h8.34M364.33 289.5h8.34M364.33 309.5h8.34M365.33 289.5h8.34M365.33 309.5h8.34M365.33 289.5h8.34M365.33 309.5h8.34M365.33 289.5h8.34M365.33 309.5h8.34M365.33 289.5h8.34M365.33 309.5h8.34M366.33 289.5h8.34M366.33 309.5h8.34M366.33 289.5h8.34M366.33 309.5h8.34M366.33 289.5h8.34M366.33 309.5h8.34M367.33 289.5h8.34M367.33 309.5h8.34M367.33 289.5h8.34M367.33 309.5h8.34M367.33 289.5h8.34M367.33 309.5h8.34M367.33 289.5h8.34M367.33 309.5h8.34M368.33 289.5h8.34M368.33 309.5h8.34M368.33 289.5h8.34M368.33 309.5h8.34M368.33 289.5h8.34M368.33 309.5h8.34M368.33 289.5h8.34M368.33 309.5h8.34M369.33 289.5h8.34M369.33 309.5h8.34M369.33 289.5h8.34M369.33 309.5h8.34M369.33 289.5h8.34M369.33 309.5h8.34M370.33 289.5h8.34M370.33 309.5h8.34M370.33 289.5h8.34M370.33 309.5h8.34M370.33 289.5h8.34M370.33 309.5h8.34M370.33 289.5h8.34M370.33 309.5h8.34M371.33 289.5h8.34M371.33 309.5h8.34M371.33 289.5h8.34M371.33 309.5h8.34M371.33 289.5h8.34M371.33 309.5h8.34M372.33 289.5h8.34M372.33 309.5h8.34M372.33 289.5h8.34M372.33 309.5h8.34M372.33 289.5h8.34M372.33 309.5h8.34M372.33 289.5h8.34M372.33 309.5h8.34M373.33 289.5h8.34M373.33 309.5h8.34M373.33 289.5h8.34M373.33 310.5h8.34M373.33 289.5h8.34M373.33 310.5h8.34M374.33 289.5h8.34M374.33 310.5h8.34M374.33 289.5h8.34M374.33 310.5h8.34M374.33 289.5h8.34M374.33 310.5h8.34M374.33 289.5h8.34M374.33 310.5h8.34M375.33 289.5h8.34M375.33 310.5h8.34M375.33 289.5h8.34M375.33 310.5h8.34M375.33 289.5h8.34M375.33 310.5h8.34M376.33 289.5h8.34M376.33 310.5h8.34M376.33 290.5h8.34M376.33 310.5h8.34M376.33 290.5h8.34M376.33 310.5h8.34M376.33 290.5h8.34M376.33 310.5h8.34M377.33 290.5h8.34M377.33 310.5h8.34M377.33 290.5h8.34M377.33 310.5h8.34M377.33 290.5h8.34M377.33 310.5h8.34M377.33 290.5h8.34M377.33 310.5h8.34M378.33 290.5h8.34M378.33 310.5h8.34M378.33 290.5h8.34M378.33 310.5h8.34M378.33 290.5h8.34M378.33 310.5h8.34M379.33 290.5h8.34M379.33 310.5h8.34M379.33 290.5h8.34M379.33 310.5h8.34M379.33 290.5h8.34M379.33 310.5h8.34M379.33 290.5h8.34M379.33 310.5h8.34M380.33 290.5h8.34M380.33 310.5h8.34M380.33 290.5h8.34M380.33 310.5h8.34M380.33 290.5h8.34M380.33 310.5h8.34M381.33 290.5h8.34M381.33 310.5h8.34M381.33 290.5h8.34M381.33 310.5h8.34M381.33 290.5h8.34M381.33 310.5h8.34M381.33 290.5h8.34M381.33 310.5h8.34M382.33 290.5h8.34M382.33 310.5h8.34M382.33 290.5h8.34M382.33 310.5h8.34M382.33 290.5h8.34M382.33 310.5h8.34M383.33 290.5h8.34M383.33 310.5h8.34M383.33 290.5h8.34M383.33 310.5h8.34M383.33 290.5h8.34M383.33 310.5h8.34M383.33 290.5h8.34M383.33 310.5h8.34M384.33 290.5h8.34M384.33 310.5h8.34M384.33 290.5h8.34M384.33 310.5h8.34M384.33 290.5h8.34M384.33 310.5h8.34M384.33 290.5h8.34M384.33 310.5h8.34M385.33 290.5h8.34M385.33 310.5h8.34M385.33 290.5h8.34M385.33 310.5h8.34M385.33 290.5h8.34M385.33 310.5h8.34M386.33 290.5h8.34M386.33 310.5h8.34M386.33 290.5h8.34M386.33 310.5h8.34M386.33 290.5h8.34M386.33 311.5h8.34M386.33 290.5h8.34M386.33 311.5h8.34M387.33 290.5h8.34M387.33 311.5h8.34M387.33 290.5h8.34M387.33 311.5h8.34M387.33 290.5h8.34M387.33 311.5h8.34M388.33 290.5h8.34M388.33 311.5h8.34M388.33 290.5h8.34M388.33 311.5h8.34M388.33 290.5h8.34M388.33 311.5h8.34M388.33 290.5h8.34M388.33 311.5h8.34M389.33 290.5h8.34M389.33 311.5h8.34M389.33 290.5h8.34M389.33 311.5h8.34M389.33 290.5h8.34M389.33 311.5h8.34M390.33 290.5h8.34M390.33 311.5h8.34M390.33 290.5h8.34M390.33 311.5h8.34M390.33 290.5h8.34M390.33 311.5h8.34M390.33 290.5h8.34M390.33 311.5h8.34M391.33 290.5h8.34M391.33 311.5h8.34M391.33 290.5h8.34M391.33 311.5h8.34M391.33 290.5h8.34M391.33 311.5h8.34M391.33 290.5h8.34M391.33 311.5h8.34M392.33 290.5h8.34M392.33 311.5h8.34M392.33 290.5h8.34M392.33 311.5h8.34M392.33 290.5h8.34M392.33 311.5h8.34M393.33 290.5h8.34M393.33 311.5h8.34M393.33 290.5h8.34M393.33 311.5h8.34M393.33 290.5h8.34M393.33 311.5h8.34M393.33 290.5h8.34M393.33 311.5h8.34M394.33 290.5h8.34M394.33 311.5h8.34M394.33 290.5h8.34M394.33 311.5h8.34M394.33 290.5h8.34M394.33 311.5h8.34M395.33 290.5h8.34M395.33 311.5h8.34M395.33 290.5h8.34M395.33 311.5h8.34M395.33 290.5h8.34M395.33 311.5h8.34M395.33 290.5h8.34M395.33 311.5h8.34M396.33 290.5h8.34M396.33 311.5h8.34M396.33 290.5h8.34M396.33 311.5h8.34M396.33 291.5h8.34M396.33 311.5h8.34M397.33 291.5h8.34M397.33 311.5h8.34M397.33 291.5h8.34M397.33 311.5h8.34M397.33 291.5h8.34M397.33 311.5h8.34M397.33 291.5h8.34M397.33 311.5h8.34M398.33 291.5h8.34M398.33 311.5h8.34M398.33 291.5h8.34M398.33 311.5h8.34M398.33 291.5h8.34M398.33 311.5h8.34M399.33 291.5h8.34M399.33 311.5h8.34M399.33 291.5h8.34M399.33 311.5h8.34M399.33 291.5h8.34M399.33 311.5h8.34M399.33 291.5h8.34M399.33 312.5h8.34M400.33 291.5h8.34M400.33 312.5h8.34M400.33 291.5h8.34M400.33 312.5h8.34M400.33 291.5h8.34M400.33 312.5h8.34M400.33 291.5h8.34M400.33 312.5h8.34M401.33 291.5h8.34M401.33 312.5h8.34M401.33 291.5h8.34M401.33 312.5h8.34M401.33 291.5h8.34M401.33 312.5h8.34M402.33 291.5h8.34M402.33 312.5h8.34M402.33 291.5h8.34M402.33 312.5h8.34M402.33 291.5h8.34M402.33 312.5h8.34M402.33 291.5h8.34M402.33 312.5h8.34M403.33 291.5h8.34M403.33 312.5h8.34M403.33 291.5h8.34M403.33 312.5h8.34M403.33 291.5h8.34M403.33 312.5h8.34M404.33 291.5h8.34M404.33 312.5h8.34M404.33 291.5h8.34M404.33 312.5h8.34M404.33 291.5h8.34M404.33 312.5h8.34M404.33 291.5h8.34M404.33 312.5h8.34M405.33 291.5h8.34M405.33 312.5h8.34M405.33 291.5h8.34M405.33 312.5h8.34M405.33 291.5h8.34M405.33 312.5h8.34M406.33 291.5h8.34M406.33 312.5h8.34M406.33 291.5h8.34M406.33 312.5h8.34M406.33 291.5h8.34M406.33 312.5h8.34M406.33 291.5h8.34M406.33 312.5h8.34M407.33 291.5h8.34M407.33 312.5h8.34M407.33 291.5h8.34M407.33 312.5h8.34M407.33 291.5h8.34M407.33 312.5h8.34M407.33 291.5h8.34M407.33 312.5h8.34M408.33 291.5h8.34M408.33 312.5h8.34M408.33 291.5h8.34M408.33 312.5h8.34M408.33 291.5h8.34M408.33 312.5h8.34M409.33 291.5h8.34M409.33 312.5h8.34M409.33 291.5h8.34M409.33 312.5h8.34M409.33 291.5h8.34M409.33 312.5h8.34M409.33 291.5h8.34M409.33 312.5h8.34M410.33 291.5h8.34M410.33 312.5h8.34M410.33 291.5h8.34M410.33 312.5h8.34M410.33 291.5h8.34M410.33 312.5h8.34M411.33 291.5h8.34M411.33 312.5h8.34M411.33 291.5h8.34M411.33 312.5h8.34M411.33 291.5h8.34M411.33 312.5h8.34M411.33 291.5h8.34M411.33 312.5h8.34M412.33 291.5h8.34M412.33 312.5h8.34M412.33 291.5h8.34M412.33 312.5h8.34M412.33 291.5h8.34M412.33 312.5h8.34M413.33 291.5h8.34M413.33 312.5h8.34M413.33 291.5h8.34M413.33 312.5h8.34M413.33 291.5h8.34M413.33 312.5h8.34M413.33 291.5h8.34M413.33 312.5h8.34M414.33 291.5h8.34M414.33 312.5h8.34M414.33 291.5h8.34M414.33 312.5h8.34M414.33 291.5h8.34M414.33 312.5h8.34M414.33 291.5h8.34M414.33 312.5h8.34M415.33 291.5h8.34M415.33 312.5h8.34M415.33 291.5h8.34M415.33 312.5h8.34M415.33 291.5h8.34M415.33 312.5h8.34M416.33 291.5h8.34M416.33 312.5h8.34M416.33 291.5h8.34M416.33 312.5h8.34M416.33 291.5h8.34M416.33 312.5h8.34M416.33 291.5h8.34M416.33 312.5h8.34M417.33 291.5h8.34M417.33 312.5h8.34M417.33 291.5h8.34M417.33 312.5h8.34M417.33 291.5h8.34M417.33 312.5h8.34M418.33 291.5h8.34M418.33 312.5h8.34M418.33 291.5h8.34M418.33 312.5h8.34M418.33 291.5h8.34M418.33 312.5h8.34M418.33 291.5h8.34M418.33 312.5h8.34M419.33 291.5h8.34M419.33 312.5h8.34M419.33 291.5h8.34M419.33 312.5h8.34M419.33 291.5h8.34M419.33 312.5h8.34M420.33 291.5h8.34M420.33 312.5h8.34M420.33 291.5h8.34M420.33 312.5h8.34M420.33 291.5h8.34M420.33 312.5h8.34M420.33 291.5h8.34M420.33 312.5h8.34M421.33 291.5h8.34M421.33 312.5h8.34M421.33 291.5h8.34M421.33 312.5h8.34M421.33 292.5h8.34M421.33 312.5h8.34M421.33 292.5h8.34M421.33 312.5h8.34M422.33 292.5h8.34M422.33 312.5h8.34M422.33 292.5h8.34M422.33 312.5h8.34M422.33 292.5h8.34M422.33 312.5h8.34M423.33 292.5h8.34M423.33 312.5h8.34M423.33 292.5h8.34M423.33 312.5h8.34M423.33 292.5h8.34M423.33 312.5h8.34M423.33 292.5h8.34M423.33 312.5h8.34M424.33 292.5h8.34M424.33 312.5h8.34M424.33 292.5h8.34M424.33 312.5h8.34M424.33 292.5h8.34M424.33 312.5h8.34M425.33 292.5h8.34M425.33 312.5h8.34M425.33 292.5h8.34M425.33 312.5h8.34M425.33 292.5h8.34M425.33 312.5h8.34M425.33 292.5h8.34M425.33 312.5h8.34M426.33 292.5h8.34M426.33 312.5h8.34M426.33 292.5h8.34M426.33 312.5h8.34M426.33 292.5h8.34M426.33 312.5h8.34M427.33 292.5h8.34M427.33 312.5h8.34M427.33 292.5h8.34M427.33 312.5h8.34M427.33 292.5h8.34M427.33 312.5h8.34M427.33 292.5h8.34M427.33 312.5h8.34M428.33 292.5h8.34M428.33 312.5h8.34M428.33 292.5h8.34M428.33 312.5h8.34M428.33 292.5h8.34M428.33 312.5h8.34M429.33 292.5h8.34M429.33 312.5h8.34M429.33 292.5h8.34M429.33 312.5h8.34M429.33 292.5h8.34M429.33 312.5h8.34M429.33 292.5h8.34M429.33 312.5h8.34M430.33 292.5h8.34M430.33 312.5h8.34M430.33 292.5h8.34M430.33 312.5h8.34M430.33 292.5h8.34M430.33 312.5h8.34M430.33 292.5h8.34M430.33 312.5h8.34M431.33 292.5h8.34M431.33 312.5h8.34M431.33 292.5h8.34M431.33 312.5h8.34M431.33 292.5h8.34M431.33 312.5h8.34M432.33 292.5h8.34M432.33 312.5h8.34M432.33 292.5h8.34M432.33 312.5h8.34M432.33 292.5h8.34M432.33 312.5h8.34M432.33 292.5h8.34M432.33 312.5h8.34M433.33 292.5h8.34M433.33 312.5h8.34M433.33 292.5h8.34M433.33 312.5h8.34M433.33 292.5h8.34M433.33 312.5h8.34M434.33 292.5h8.34M434.33 312.5h8.34M434.33 292.5h8.34M434.33 312.5h8.34M434.33 292.5h8.34M434.33 312.5h8.34M434.33 292.5h8.34M434.33 312.5h8.34M435.33 292.5h8.34M435.33 312.5h8.34M435.33 292.5h8.34M435.33 312.5h8.34M435.33 292.5h8.34M435.33 312.5h8.34M436.33 292.5h8.34M436.33 312.5h8.34M436.33 292.5h8.34M436.33 312.5h8.34M436.33 292.5h8.34M436.33 312.5h8.34M436.33 292.5h8.34M436.33 312.5h8.34M437.33 292.5h8.34M437.33 312.5h8.34M437.33 292.5h8.34M437.33 312.5h8.34M437.33 292.5h8.34M437.33 312.5h8.34M437.33 292.5h8.34M437.33 312.5h8.34M438.33 292.5h8.34M438.33 312.5h8.34M438.33 292.5h8.34M438.33 312.5h8.34M438.33 292.5h8.34M438.33 312.5h8.34M439.33 292.5h8.34M439.33 312.5h8.34M439.33 292.5h8.34M439.33 312.5h8.34M439.33 292.5h8.34M439.33 312.5h8.34M439.33 292.5h8.34M439.33 312.5h8.34M440.33 292.5h8.34M440.33 312.5h8.34M440.33 292.5h8.34M440.33 312.5h8.34M440.33 292.5h8.34M440.33 312.5h8.34M441.33 292.5h8.34M441.33 312.5h8.34M441.33 292.5h8.34M441.33 312.5h8.34M441.33 292.5h8.34M441.33 312.5h8.34M441.33 292.5h8.34M441.33 312.5h8.34M442.33 292.5h8.34M442.33 312.5h8.34M442.33 292.5h8.34M442.33 312.5h8.34M442.33 292.5h8.34M442.33 312.5h8.34M443.33 292.5h8.34M443.33 312.5h8.34M443.33 292.5h8.34M443.33 312.5h8.34M443.33 292.5h8.34M443.33 312.5h8.34M443.33 292.5h8.34M443.33 312.5h8.34M444.33 292.5h8.34M444.33 312.5h8.34M444.33 292.5h8.34M444.33 312.5h8.34M444.33 292.5h8.34M444.33 312.5h8.34M444.33 292.5h8.34M444.33 312.5h8.34M445.33 292.5h8.34M445.33 312.5h8.34M445.33 292.5h8.34M445.33 312.5h8.34M445.33 292.5h8.34M445.33 312.5h8.34M446.33 292.5h8.34M446.33 312.5h8.34M446.33 292.5h8.34M446.33 312.5h8.34M446.33 293.5h8.34M446.33 312.5h8.34M446.33 293.5h8.34M446.33 312.5h8.34M447.33 293.5h8.34M447.33 312.5h8.34M447.33 293.5h8.34M447.33 312.5h8.34M447.33 293.5h8.34M447.33 312.5h8.34M448.33 293.5h8.34M448.33 312.5h8.34M448.33 293.5h8.34M448.33 312.5h8.34M448.33 293.5h8.34M448.33 312.5h8.34M448.33 293.5h8.34M448.33 312.5h8.34M449.33 293.5h8.34M449.33 312.5h8.34M449.33 293.5h8.34M449.33 312.5h8.34M449.33 293.5h8.34M449.33 312.5h8.34M450.33 293.5h8.34M450.33 312.5h8.34M450.33 293.5h8.34M450.33 312.5h8.34M450.33 293.5h8.34M450.33 312.5h8.34M450.33 293.5h8.34M450.33 312.5h8.34M451.33 293.5h8.34M451.33 312.5h8.34M451.33 293.5h8.34M451.33 312.5h8.34M451.33 293.5h8.34M451.33 312.5h8.34M452.33 293.5h8.34M452.33 312.5h8.34M452.33 293.5h8.34M452.33 312.5h8.34M452.33 293.5h8.34M452.33 312.5h8.34M452.33 293.5h8.34M452.33 312.5h8.34M453.33 293.5h8.34M453.33 312.5h8.34M453.33 293.5h8.34M453.33 312.5h8.34M453.33 293.5h8.34M453.33 312.5h8.34M453.33 293.5h8.34M453.33 312.5h8.34M454.33 293.5h8.34M454.33 312.5h8.34M454.33 293.5h8.34M454.33 312.5h8.34M454.33 293.5h8.34M454.33 312.5h8.34M455.33 293.5h8.34M455.33 312.5h8.34M455.33 293.5h8.34M455.33 312.5h8.34M455.33 293.5h8.34M455.33 312.5h8.34M455.33 293.5h8.34M455.33 312.5h8.34M456.33 293.5h8.34M456.33 312.5h8.34M456.33 293.5h8.34M456.33 312.5h8.34M456.33 293.5h8.34M456.33 312.5h8.34M457.33 293.5h8.34M457.33 312.5h8.34M457.33 293.5h8.34M457.33 312.5h8.34M457.33 293.5h8.34M457.33 312.5h8.34M457.33 293.5h8.34M457.33 312.5h8.34M458.33 293.5h8.34M458.33 312.5h8.34M458.33 293.5h8.34M458.33 312.5h8.34M458.33 293.5h8.34M458.33 312.5h8.34M459.33 293.5h8.34M459.33 312.5h8.34M459.33 293.5h8.34M459.33 312.5h8.34M459.33 293.5h8.34M459.33 312.5h8.34M459.33 293.5h8.34M459.33 312.5h8.34M460.33 293.5h8.34M460.33 313.5h8.34M460.33 293.5h8.34M460.33 313.5h8.34M460.33 293.5h8.34M460.33 313.5h8.34M460.33 293.5h8.34M460.33 313.5h8.34M461.33 293.5h8.34M461.33 313.5h8.34M461.33 293.5h8.34M461.33 313.5h8.34M461.33 293.5h8.34M461.33 313.5h8.34M462.33 293.5h8.34M462.33 313.5h8.34M462.33 293.5h8.34M462.33 313.5h8.34M462.33 293.5h8.34M462.33 313.5h8.34M462.33 293.5h8.34M462.33 313.5h8.34M463.33 293.5h8.34M463.33 313.5h8.34M463.33 293.5h8.34M463.33 313.5h8.34M463.33 294.5h8.34M463.33 313.5h8.34M464.33 294.5h8.34M464.33 313.5h8.34M464.33 294.5h8.34M464.33 313.5h8.34M464.33 294.5h8.34M464.33 313.5h8.34M464.33 294.5h8.34M464.33 313.5h8.34M465.33 294.5h8.34M465.33 313.5h8.34M465.33 294.5h8.34M465.33 313.5h8.34M465.33 294.5h8.34M465.33 313.5h8.34M466.33 294.5h8.34M466.33 313.5h8.34M466.33 294.5h8.34M466.33 313.5h8.34M466.33 294.5h8.34M466.33 313.5h8.34M466.33 294.5h8.34M466.33 313.5h8.34M467.33 294.5h8.34M467.33 313.5h8.34M467.33 294.5h8.34M467.33 313.5h8.34M467.33 294.5h8.34M467.33 313.5h8.34M467.33 294.5h8.34M467.33 313.5h8.34M468.33 294.5h8.34M468.33 313.5h8.34M468.33 294.5h8.34M468.33 313.5h8.34M468.33 294.5h8.34M468.33 313.5h8.34M469.33 294.5h8.34M469.33 313.5h8.34M469.33 294.5h8.34M469.33 313.5h8.34M469.33 294.5h8.34M469.33 313.5h8.34M469.33 294.5h8.34M469.33 313.5h8.34M470.33 294.5h8.34M470.33 313.5h8.34M470.33 294.5h8.34M470.33 313.5h8.34M470.33 294.5h8.34M470.33 313.5h8.34M471.33 294.5h8.34M471.33 313.5h8.34M471.33 294.5h8.34M471.33 313.5h8.34M471.33 294.5h8.34M471.33 313.5h8.34M471.33 294.5h8.34M471.33 313.5h8.34M472.33 294.5h8.34M472.33 313.5h8.34M472.33 294.5h8.34M472.33 313.5h8.34M472.33 294.5h8.34M472.33 313.5h8.34M473.33 294.5h8.34M473.33 313.5h8.34M473.33 294.5h8.34M473.33 313.5h8.34M473.33 294.5h8.34M473.33 313.5h8.34M473.33 294.5h8.34M473.33 313.5h8.34M474.33 294.5h8.34M474.33 313.5h8.34M474.33 294.5h8.34M474.33 313.5h8.34M474.33 294.5h8.34M474.33 313.5h8.34M474.33 294.5h8.34M474.33 313.5h8.34M475.33 294.5h8.34M475.33 313.5h8.34M475.33 294.5h8.34M475.33 313.5h8.34M475.33 294.5h8.34M475.33 313.5h8.34M476.33 294.5h8.34M476.33 313.5h8.34M476.33 294.5h8.34M476.33 313.5h8.34M476.33 294.5h8.34M476.33 313.5h8.34M476.33 294.5h8.34M476.33 313.5h8.34M477.33 294.5h8.34M477.33 313.5h8.34M477.33 294.5h8.34M477.33 313.5h8.34M477.33 294.5h8.34M477.33 313.5h8.34M478.33 294.5h8.34M478.33 313.5h8.34M478.33 294.5h8.34M478.33 313.5h8.34M478.33 294.5h8.34M478.33 313.5h8.34M478.33 294.5h8.34M478.33 313.5h8.34M479.33 294.5h8.34M479.33 313.5h8.34M479.33 294.5h8.34M479.33 313.5h8.34M479.33 294.5h8.34M479.33 313.5h8.34M480.33 294.5h8.34M480.33 313.5h8.34M480.33 294.5h8.34M480.33 313.5h8.34M480.33 294.5h8.34M480.33 313.5h8.34M480.33 294.5h8.34M480.33 313.5h8.34M481.33 294.5h8.34M481.33 313.5h8.34M481.33 295.5h8.34M481.33 313.5h8.34M481.33 295.5h8.34M481.33 313.5h8.34M482.33 295.5h8.34M482.33 313.5h8.34M482.33 295.5h8.34M482.33 313.5h8.34M482.33 295.5h8.34M482.33 313.5h8.34M482.33 295.5h8.34M482.33 313.5h8.34M483.33 295.5h8.34M483.33 313.5h8.34M483.33 295.5h8.34M483.33 313.5h8.34M483.33 295.5h8.34M483.33 313.5h8.34M483.33 295.5h8.34M483.33 313.5h8.34M484.33 295.5h8.34M484.33 313.5h8.34M484.33 295.5h8.34M484.33 313.5h8.34M484.33 295.5h8.34M484.33 313.5h8.34M485.33 295.5h8.34M485.33 313.5h8.34M485.33 295.5h8.34M485.33 313.5h8.34M485.33 295.5h8.34M485.33 313.5h8.34M485.33 295.5h8.34M485.33 313.5h8.34M486.33 295.5h8.34M486.33 313.5h8.34M486.33 295.5h8.34M486.33 313.5h8.34M486.33 295.5h8.34M486.33 313.5h8.34M487.33 295.5h8.34M487.33 313.5h8.34M487.33 295.5h8.34M487.33 313.5h8.34M487.33 295.5h8.34M487.33 313.5h8.34M487.33 295.5h8.34M487.33 313.5h8.34M488.33 295.5h8.34M488.33 313.5h8.34M488.33 295.5h8.34M488.33 313.5h8.34M488.33 295.5h8.34M488.33 313.5h8.34M489.33 295.5h8.34M489.33 313.5h8.34M489.33 295.5h8.34M489.33 313.5h8.34M489.33 295.5h8.34M489.33 313.5h8.34M489.33 295.5h8.34M489.33 313.5h8.34M490.33 295.5h8.34M490.33 313.5h8.34M490.33 295.5h8.34M490.33 313.5h8.34M490.33 295.5h8.34M490.33 313.5h8.34M490.33 295.5h8.34M490.33 313.5h8.34M491.33 295.5h8.34M491.33 313.5h8.34M491.33 295.5h8.34M491.33 313.5h8.34M491.33 295.5h8.34M491.33 313.5h8.34M492.33 295.5h8.34M492.33 313.5h8.34M492.33 295.5h8.34M492.33 313.5h8.34M492.33 295.5h8.34M492.33 313.5h8.34M492.33 295.5h8.34M492.33 313.5h8.34M493.33 295.5h8.34M493.33 313.5h8.34M493.33 295.5h8.34M493.33 313.5h8.34M493.33 295.5h8.34M493.33 313.5h8.34M494.33 295.5h8.34M494.33 313.5h8.34M494.33 295.5h8.34M494.33 313.5h8.34M494.33 295.5h8.34M494.33 313.5h8.34M494.33 295.5h8.34M494.33 313.5h8.34M495.33 295.5h8.34M495.33 313.5h8.34M495.33 295.5h8.34M495.33 313.5h8.34M495.33 295.5h8.34M495.33 313.5h8.34M496.33 295.5h8.34M496.33 313.5h8.34M496.33 295.5h8.34M496.33 313.5h8.34M496.33 295.5h8.34M496.33 313.5h8.34M496.33 295.5h8.34M496.33 313.5h8.34M497.33 295.5h8.34M497.33 313.5h8.34M497.33 295.5h8.34M497.33 313.5h8.34M497.33 295.5h8.34M497.33 313.5h8.34M497.33 295.5h8.34M497.33 313.5h8.34M498.33 295.5h8.34M498.33 313.5h8.34M498.33 295.5h8.34M498.33 313.5h8.34M498.33 295.5h8.34M498.33 313.5h8.34M499.33 295.5h8.34M499.33 313.5h8.34M499.33 296.5h8.34M499.33 313.5h8.34M499.33 296.5h8.34M499.33 313.5h8.34M499.33 296.5h8.34M499.33 313.5h8.34M500.33 296.5h8.34M500.33 313.5h8.34M500.33 296.5h8.34M500.33 313.5h8.34M500.33 296.5h8.34M500.33 313.5h8.34M501.33 296.5h8.34M501.33 313.5h8.34M501.33 296.5h8.34M501.33 313.5h8.34M501.33 296.5h8.34M501.33 313.5h8.34M501.33 296.5h8.34M501.33 313.5h8.34M502.33 296.5h8.34M502.33 313.5h8.34M502.33 296.5h8.34M502.33 313.5h8.34M502.33 296.5h8.34M502.33 313.5h8.34M503.33 296.5h8.34M503.33 313.5h8.34M503.33 296.5h8.34M503.33 313.5h8.34M503.33 296.5h8.34M503.33 313.5h8.34M503.33 296.5h8.34M503.33 313.5h8.34M504.33 296.5h8.34M504.33 313.5h8.34M504.33 296.5h8.34M504.33 313.5h8.34M504.33 296.5h8.34M504.33 313.5h8.34M504.33 296.5h8.34M504.33 313.5h8.34M505.33 296.5h8.34M505.33 313.5h8.34M505.33 296.5h8.34M505.33 313.5h8.34M505.33 296.5h8.34M505.33 313.5h8.34M506.33 296.5h8.34M506.33 313.5h8.34M506.33 296.5h8.34M506.33 313.5h8.34M506.33 296.5h8.34M506.33 313.5h8.34M506.33 296.5h8.34M506.33 313.5h8.34M507.33 296.5h8.34M507.33 313.5h8.34M507.33 296.5h8.34M507.33 313.5h8.34M507.33 296.5h8.34M507.33 313.5h8.34M508.33 296.5h8.34M508.33 313.5h8.34M508.33 296.5h8.34M508.33 313.5h8.34M508.33 296.5h8.34M508.33 313.5h8.34M508.33 296.5h8.34M508.33 313.5h8.34M509.33 296.5h8.34M509.33 313.5h8.34M509.33 296.5h8.34M509.33 313.5h8.34M509.33 296.5h8.34M509.33 313.5h8.34M510.33 296.5h8.34M510.33 313.5h8.34M510.33 296.5h8.34M510.33 313.5h8.34M510.33 296.5h8.34M510.33 313.5h8.34M510.33 296.5h8.34M510.33 313.5h8.34M511.33 296.5h8.34M511.33 313.5h8.34M511.33 296.5h8.34M511.33 313.5h8.34M511.33 296.5h8.34M511.33 313.5h8.34M512.33 296.5h8.34M512.33 313.5h8.34M512.33 296.5h8.34M512.33 313.5h8.34M512.33 296.5h8.34M512.33 313.5h8.34M512.33 296.5h8.34M512.33 313.5h8.34M513.33 297.5h8.34M513.33 313.5h8.34M513.33 297.5h8.34M513.33 313.5h8.34M513.33 297.5h8.34M513.33 313.5h8.34M513.33 297.5h8.34M513.33 313.5h8.34M514.33 297.5h8.34M514.33 313.5h8.34M514.33 297.5h8.34M514.33 313.5h8.34M514.33 297.5h8.34M514.33 313.5h8.34M515.33 297.5h8.34M515.33 313.5h8.34M515.33 297.5h8.34M515.33 313.5h8.34M515.33 297.5h8.34M515.33 313.5h8.34M515.33 297.5h8.34M515.33 313.5h8.34M516.33 297.5h8.34M516.33 313.5h8.34M516.33 297.5h8.34M516.33 313.5h8.34M516.33 297.5h8.34M516.33 313.5h8.34M517.33 297.5h8.34M517.33 313.5h8.34M517.33 297.5h8.34M517.33 313.5h8.34M517.33 297.5h8.34M517.33 313.5h8.34M517.33 297.5h8.34M517.33 313.5h8.34M518.33 297.5h8.34M518.33 313.5h8.34M518.33 297.5h8.34M518.33 313.5h8.34M518.33 297.5h8.34M518.33 313.5h8.34M519.33 297.5h8.34M519.33 313.5h8.34M519.33 297.5h8.34M519.33 313.5h8.34M519.33 297.5h8.34M519.33 313.5h8.34M519.33 297.5h8.34M519.33 313.5h8.34M520.33 297.5h8.34M520.33 313.5h8.34M520.33 297.5h8.34M520.33 313.5h8.34M520.33 297.5h8.34M520.33 313.5h8.34M520.33 297.5h8.34M520.33 313.5h8.34M521.33 297.5h8.34M521.33 313.5h8.34M521.33 297.5h8.34M521.33 314.5h8.34M521.33 297.5h8.34M521.33 314.5h8.34M522.33 297.5h8.34M522.33 314.5h8.34M522.33 297.5h8.34M522.33 314.5h8.34M522.33 297.5h8.34M522.33 314.5h8.34M522.33 297.5h8.34M522.33 314.5h8.34M523.33 297.5h8.34M523.33 314.5h8.34M523.33 297.5h8.34M523.33 314.5h8.34M523.33 297.5h8.34M523.33 314.5h8.34M524.33 297.5h8.34M524.33 314.5h8.34M524.33 297.5h8.34M524.33 314.5h8.34M524.33 297.5h8.34M524.33 314.5h8.34M524.33 297.5h8.34M524.33 314.5h8.34M525.33 297.5h8.34M525.33 314.5h8.34M525.33 297.5h8.34M525.33 314.5h8.34M525.33 297.5h8.34M525.33 314.5h8.34M526.33 297.5h8.34M526.33 314.5h8.34M526.33 297.5h8.34M526.33 314.5h8.34M526.33 298.5h8.34M526.33 314.5h8.34M526.33 298.5h8.34M526.33 314.5h8.34M527.33 298.5h8.34M527.33 314.5h8.34M527.33 298.5h8.34M527.33 314.5h8.34M527.33 298.5h8.34M527.33 314.5h8.34M527.33 298.5h8.34M527.33 314.5h8.34M528.33 298.5h8.34M528.33 314.5h8.34M528.33 298.5h8.34M528.33 314.5h8.34M528.33 298.5h8.34M528.33 314.5h8.34M529.33 298.5h8.34M529.33 314.5h8.34M529.33 298.5h8.34M529.33 314.5h8.34M529.33 298.5h8.34M529.33 314.5h8.34M529.33 298.5h8.34M529.33 314.5h8.34M530.33 298.5h8.34M530.33 314.5h8.34M530.33 298.5h8.34M530.33 314.5h8.34M530.33 298.5h8.34M530.33 314.5h8.34M531.33 298.5h8.34M531.33 314.5h8.34M531.33 298.5h8.34M531.33 314.5h8.34M531.33 298.5h8.34M531.33 314.5h8.34M531.33 298.5h8.34M531.33 314.5h8.34M532.33 298.5h8.34M532.33 314.5h8.34M532.33 298.5h8.34M532.33 314.5h8.34M532.33 298.5h8.34M532.33 314.5h8.34M533.33 298.5h8.34M533.33 314.5h8.34M533.33 298.5h8.34M533.33 314.5h8.34M533.33 298.5h8.34M533.33 314.5h8.34M533.33 298.5h8.34M533.33 314.5h8.34M534.33 298.5h8.34M534.33 314.5h8.34M534.33 298.5h8.34M534.33 314.5h8.34M534.33 298.5h8.34M534.33 314.5h8.34M535.33 298.5h8.34M535.33 314.5h8.34M535.33 298.5h8.34M535.33 314.5h8.34M535.33 298.5h8.34M535.33 314.5h8.34M535.33 298.5h8.34M535.33 314.5h8.34M536.33 298.5h8.34M536.33 314.5h8.34M536.33 298.5h8.34M536.33 314.5h8.34M536.33 298.5h8.34M536.33 314.5h8.34M536.33 298.5h8.34M536.33 314.5h8.34M537.33 298.5h8.34M537.33 314.5h8.34M537.33 298.5h8.34M537.33 314.5h8.34M537.33 298.5h8.34M537.33 314.5h8.34M538.33 298.5h8.34M538.33 314.5h8.34M538.33 298.5h8.34M538.33 314.5h8.34M538.33 298.5h8.34M538.33 314.5h8.34M538.33 298.5h8.34M538.33 314.5h8.34M539.33 298.5h8.34M539.33 314.5h8.34M539.33 299.5h8.34M539.33 314.5h8.34M539.33 299.5h8.34M539.33 314.5h8.34M540.33 299.5h8.34M540.33 314.5h8.34M540.33 299.5h8.34M540.33 314.5h8.34M540.33 299.5h8.34M540.33 314.5h8.34M540.33 299.5h8.34M540.33 314.5h8.34M541.33 299.5h8.34M541.33 314.5h8.34M541.33 299.5h8.34M541.33 314.5h8.34M541.33 299.5h8.34M541.33 314.5h8.34M542.33 299.5h8.34M542.33 314.5h8.34M542.33 299.5h8.34M542.33 314.5h8.34M542.33 299.5h8.34M542.33 314.5h8.34M542.33 299.5h8.34M542.33 314.5h8.34M543.33 299.5h8.34M543.33 314.5h8.34M543.33 299.5h8.34M543.33 314.5h8.34M543.33 299.5h8.34M543.33 314.5h8.34M543.33 299.5h8.34M543.33 314.5h8.34M544.33 299.5h8.34M544.33 314.5h8.34M544.33 299.5h8.34M544.33 314.5h8.34M544.33 299.5h8.34M544.33 314.5h8.34M545.33 299.5h8.34M545.33 314.5h8.34M545.33 299.5h8.34M545.33 314.5h8.34M545.33 299.5h8.34M545.33 314.5h8.34M545.33 299.5h8.34M545.33 314.5h8.34M546.33 299.5h8.34M546.33 314.5h8.34M546.33 299.5h8.34M546.33 315.5h8.34M546.33 299.5h8.34M546.33 315.5h8.34M547.33 299.5h8.34M547.33 315.5h8.34M547.33 299.5h8.34M547.33 315.5h8.34M547.33 299.5h8.34M547.33 315.5h8.34M547.33 299.5h8.34M547.33 315.5h8.34M548.33 299.5h8.34M548.33 315.5h8.34M548.33 299.5h8.34M548.33 315.5h8.34M548.33 299.5h8.34M548.33 315.5h8.34M549.33 299.5h8.34M549.33 315.5h8.34M549.33 299.5h8.34M549.33 315.5h8.34M549.33 299.5h8.34M549.33 315.5h8.34M549.33 299.5h8.34M549.33 315.5h8.34M550.33 299.5h8.34M550.33 315.5h8.34M550.33 299.5h8.34M550.33 315.5h8.34M550.33 299.5h8.34M550.33 315.5h8.34M550.33 300.5h8.34M550.33 315.5h8.34M551.33 300.5h8.34M551.33 315.5h8.34M551.33 300.5h8.34M551.33 315.5h8.34M551.33 300.5h8.34M551.33 315.5h8.34M552.33 300.5h8.34M552.33 315.5h8.34M552.33 300.5h8.34M552.33 315.5h8.34M552.33 300.5h8.34M552.33 315.5h8.34M552.33 300.5h8.34M552.33 315.5h8.34M553.33 300.5h8.34M553.33 315.5h8.34M553.33 300.5h8.34M553.33 315.5h8.34M553.33 300.5h8.34M553.33 315.5h8.34M554.33 300.5h8.34M554.33 315.5h8.34M554.33 300.5h8.34M554.33 315.5h8.34M554.33 300.5h8.34M554.33 315.5h8.34M554.33 300.5h8.34M554.33 315.5h8.34M555.33 300.5h8.34M555.33 315.5h8.34M555.33 300.5h8.34M555.33 315.5h8.34M555.33 300.5h8.34M555.33 315.5h8.34M556.33 300.5h8.34M556.33 315.5h8.34M556.33 300.5h8.34M556.33 315.5h8.34M556.33 300.5h8.34M556.33 315.5h8.34M556.33 300.5h8.34M556.33 315.5h8.34M557.33 300.5h8.34M557.33 315.5h8.34M557.33 300.5h8.34M557.33 315.5h8.34M557.33 300.5h8.34M557.33 315.5h8.34M557.33 300.5h8.34M557.33 315.5h8.34M558.33 300.5h8.34M558.33 315.5h8.34M558.33 300.5h8.34M558.33 315.5h8.34M558.33 300.5h8.34M558.33 315.5h8.34M559.33 300.5h8.34M559.33 315.5h8.34M559.33 300.5h8.34M559.33 315.5h8.34M559.33 300.5h8.34M559.33 315.5h8.34M559.33 300.5h8.34M559.33 315.5h8.34M560.33 300.5h8.34M560.33 315.5h8.34M560.33 301.5h8.34M560.33 315.5h8.34M560.33 301.5h8.34M560.33 315.5h8.34M561.33 301.5h8.34M561.33 315.5h8.34M561.33 301.5h8.34M561.33 315.5h8.34M561.33 301.5h8.34M561.33 315.5h8.34M561.33 301.5h8.34M561.33 315.5h8.34M562.33 301.5h8.34M562.33 315.5h8.34M562.33 301.5h8.34M562.33 315.5h8.34M562.33 301.5h8.34M562.33 315.5h8.34M563.33 301.5h8.34M563.33 315.5h8.34M563.33 301.5h8.34M563.33 315.5h8.34M563.33 301.5h8.34M563.33 315.5h8.34M563.33 301.5h8.34M563.33 315.5h8.34M564.33 301.5h8.34M564.33 315.5h8.34M564.33 301.5h8.34M564.33 315.5h8.34M564.33 301.5h8.34M564.33 315.5h8.34M565.33 301.5h8.34M565.33 316.5h8.34M565.33 301.5h8.34M565.33 316.5h8.34M565.33 301.5h8.34M565.33 316.5h8.34M565.33 301.5h8.34M565.33 316.5h8.34M566.33 301.5h8.34M566.33 316.5h8.34M566.33 301.5h8.34M566.33 316.5h8.34M566.33 301.5h8.34M566.33 316.5h8.34M566.33 301.5h8.34M566.33 316.5h8.34M567.33 301.5h8.34M567.33 316.5h8.34M567.33 301.5h8.34M567.33 316.5h8.34M567.33 301.5h8.34M567.33 316.5h8.34M568.33 301.5h8.34M568.33 316.5h8.34M568.33 301.5h8.34M568.33 316.5h8.34M568.33 302.5h8.34M568.33 316.5h8.34M568.33 302.5h8.34M568.33 316.5h8.34M569.33 302.5h8.34M569.33 316.5h8.34M569.33 302.5h8.34M569.33 316.5h8.34M569.33 302.5h8.34M569.33 316.5h8.34M570.33 302.5h8.34M570.33 316.5h8.34M570.33 302.5h8.34M570.33 316.5h8.34M570.33 302.5h8.34M570.33 316.5h8.34M570.33 302.5h8.34M570.33 316.5h8.34M571.33 302.5h8.34M571.33 316.5h8.34M571.33 302.5h8.34M571.33 316.5h8.34M571.33 302.5h8.34M571.33 316.5h8.34M572.33 302.5h8.34M572.33 316.5h8.34M572.33 302.5h8.34M572.33 316.5h8.34M572.33 302.5h8.34M572.33 316.5h8.34M572.33 302.5h8.34M572.33 316.5h8.34M573.33 302.5h8.34M573.33 316.5h8.34M573.33 302.5h8.34M573.33 316.5h8.34M573.33 302.5h8.34M573.33 316.5h8.34M573.33 302.5h8.34M573.33 316.5h8.34M574.33 302.5h8.34M574.33 316.5h8.34M574.33 302.5h8.34M574.33 316.5h8.34M574.33 302.5h8.34M574.33 316.5h8.34M575.33 302.5h8.34M575.33 316.5h8.34M575.33 302.5h8.34M575.33 316.5h8.34M575.33 302.5h8.34M575.33 316.5h8.34M575.33 302.5h8.34M575.33 316.5h8.34M576.33 302.5h8.34M576.33 316.5h8.34M576.33 303.5h8.34M576.33 316.5h8.34M576.33 303.5h8.34M576.33 316.5h8.34M577.33 303.5h8.34M577.33 316.5h8.34M577.33 303.5h8.34M577.33 316.5h8.34M577.33 303.5h8.34M577.33 316.5h8.34M577.33 303.5h8.34M577.33 316.5h8.34M578.33 303.5h8.34M578.33 316.5h8.34M578.33 303.5h8.34M578.33 316.5h8.34M578.33 303.5h8.34M578.33 316.5h8.34M579.33 303.5h8.34M579.33 316.5h8.34M579.33 303.5h8.34M579.33 316.5h8.34M579.33 303.5h8.34M579.33 316.5h8.34M579.33 303.5h8.34M579.33 316.5h8.34M580.33 303.5h8.34M580.33 317.5h8.34M580.33 303.5h8.34M580.33 317.5h8.34M580.33 303.5h8.34M580.33 317.5h8.34M580.33 303.5h8.34M580.33 317.5h8.34M581.33 303.5h8.34M581.33 317.5h8.34M581.33 303.5h8.34M581.33 317.5h8.34M581.33 303.5h8.34M581.33 317.5h8.34M582.33 303.5h8.34M582.33 317.5h8.34M582.33 303.5h8.34M582.33 317.5h8.34M582.33 303.5h8.34M582.33 317.5h8.34M582.33 303.5h8.34M582.33 317.5h8.34M583.33 303.5h8.34M583.33 317.5h8.34M583.33 303.5h8.34M583.33 317.5h8.34M583.33 303.5h8.34M583.33 317.5h8.34M584.33 303.5h8.34M584.33 317.5h8.34M584.33 303.5h8.34M584.33 317.5h8.34M584.33 304.5h8.34M584.33 317.5h8.34M584.33 304.5h8.34M584.33 317.5h8.34M585.33 304.5h8.34M585.33 317.5h8.34M585.33 304.5h8.34M585.33 317.5h8.34M585.33 304.5h8.34M585.33 317.5h8.34M586.33 304.5h8.34M586.33 317.5h8.34M586.33 304.5h8.34M586.33 317.5h8.34M586.33 304.5h8.34M586.33 317.5h8.34M586.33 304.5h8.34M586.33 317.5h8.34M587.33 304.5h8.34M587.33 317.5h8.34M587.33 304.5h8.34M587.33 317.5h8.34M587.33 304.5h8.34M587.33 317.5h8.34M587.33 304.5h8.34M587.33 317.5h8.34M588.33 304.5h8.34M588.33 317.5h8.34M588.33 304.5h8.34M588.33 317.5h8.34M588.33 304.5h8.34M588.33 317.5h8.34M589.33 304.5h8.34M589.33 317.5h8.34M589.33 304.5h8.34M589.33 317.5h8.34M589.33 304.5h8.34M589.33 317.5h8.34M589.33 304.5h8.34M589.33 317.5h8.34M590.33 304.5h8.34M590.33 317.5h8.34M590.33 304.5h8.34M590.33 317.5h8.34M590.33 304.5h8.34M590.33 317.5h8.34M591.33 304.5h8.34M591.33 317.5h8.34M591.33 304.5h8.34M591.33 317.5h8.34M591.33 304.5h8.34M591.33 317.5h8.34M591.33 304.5h8.34M591.33 318.5h8.34M592.33 304.5h8.34M592.33 318.5h8.34M592.33 304.5h8.34M592.33 318.5h8.34M592.33 305.5h8.34M592.33 318.5h8.34M593.33 305.5h8.34M593.33 318.5h8.34M593.33 305.5h8.34M593.33 318.5h8.34M593.33 305.5h8.34M593.33 318.5h8.34M593.33 305.5h8.34M593.33 318.5h8.34M594.33 305.5h8.34M594.33 318.5h8.34M594.33 305.5h8.34M594.33 318.5h8.34M594.33 305.5h8.34M594.33 318.5h8.34M595.33 305.5h8.34M595.33 318.5h8.34M595.33 305.5h8.34M595.33 318.5h8.34M595.33 305.5h8.34M595.33 318.5h8.34M595.33 305.5h8.34M595.33 318.5h8.34M596.33 305.5h8.34M596.33 318.5h8.34M596.33 305.5h8.34M596.33 318.5h8.34M596.33 305.5h8.34M596.33 318.5h8.34M596.33 305.5h8.34M596.33 318.5h8.34M597.33 305.5h8.34M597.33 318.5h8.34M597.33 305.5h8.34M597.33 318.5h8.34M597.33 305.5h8.34M597.33 318.5h8.34M598.33 305.5h8.34M598.33 318.5h8.34M598.33 305.5h8.34M598.33 318.5h8.34M598.33 305.5h8.34M598.33 318.5h8.34M598.33 305.5h8.34M598.33 318.5h8.34M599.33 305.5h8.34M599.33 318.5h8.34M599.33 305.5h8.34M599.33 318.5h8.34M599.33 305.5h8.34M599.33 318.5h8.34M600.33 305.5h8.34M600.33 318.5h8.34M600.33 306.5h8.34M600.33 318.5h8.34M600.33 306.5h8.34M600.33 318.5h8.34M600.33 306.5h8.34M600.33 318.5h8.34M601.33 306.5h8.34M601.33 318.5h8.34M601.33 306.5h8.34M601.33 318.5h8.34M601.33 306.5h8.34M601.33 318.5h8.34M602.33 306.5h8.34M602.33 318.5h8.34M602.33 306.5h8.34M602.33 318.5h8.34M602.33 306.5h8.34M602.33 318.5h8.34M602.33 306.5h8.34M602.33 318.5h8.34M603.33 306.5h8.34M603.33 318.5h8.34M603.33 306.5h8.34M603.33 318.5h8.34M603.33 306.5h8.34M603.33 319.5h8.34M603.33 306.5h8.34M603.33 319.5h8.34M604.33 306.5h8.34M604.33 319.5h8.34M604.33 306.5h8.34M604.33 319.5h8.34M604.33 306.5h8.34M604.33 319.5h8.34M605.33 306.5h8.34M605.33 319.5h8.34M605.33 306.5h8.34M605.33 319.5h8.34M605.33 306.5h8.34M605.33 319.5h8.34M605.33 306.5h8.34M605.33 319.5h8.34M606.33 306.5h8.34M606.33 319.5h8.34M606.33 306.5h8.34M606.33 319.5h8.34M606.33 306.5h8.34M606.33 319.5h8.34M607.33 306.5h8.34M607.33 319.5h8.34M607.33 307.5h8.34M607.33 319.5h8.34M607.33 307.5h8.34M607.33 319.5h8.34M607.33 307.5h8.34M607.33 319.5h8.34M608.33 307.5h8.34M608.33 319.5h8.34M608.33 307.5h8.34M608.33 319.5h8.34M608.33 307.5h8.34M608.33 319.5h8.34M609.33 307.5h8.34M609.33 319.5h8.34M609.33 307.5h8.34M609.33 319.5h8.34M609.33 307.5h8.34M609.33 319.5h8.34M609.33 307.5h8.34M609.33 319.5h8.34M610.33 307.5h8.34M610.33 319.5h8.34M610.33 307.5h8.34M610.33 319.5h8.34M610.33 307.5h8.34M610.33 319.5h8.34M610.33 307.5h8.34M610.33 319.5h8.34M611.33 307.5h8.34M611.33 319.5h8.34M611.33 307.5h8.34M611.33 319.5h8.34M611.33 307.5h8.34M611.33 319.5h8.34M612.33 307.5h8.34M612.33 319.5h8.34M612.33 307.5h8.34M612.33 319.5h8.34M612.33 307.5h8.34M612.33 319.5h8.34M612.33 307.5h8.34M612.33 319.5h8.34M613.33 307.5h8.34M613.33 319.5h8.34M613.33 307.5h8.34M613.33 319.5h8.34M613.33 307.5h8.34M613.33 319.5h8.34M614.33 307.5h8.34M614.33 319.5h8.34M614.33 308.5h8.34M614.33 319.5h8.34M614.33 308.5h8.34M614.33 319.5h8.34M614.33 308.5h8.34M614.33 319.5h8.34M615.33 308.5h8.34M615.33 319.5h8.34M615.33 308.5h8.34M615.33 320.5h8.34M615.33 308.5h8.34M615.33 320.5h8.34M616.33 308.5h8.34M616.33 320.5h8.34M616.33 308.5h8.34M616.33 320.5h8.34M616.33 308.5h8.34M616.33 320.5h8.34M616.33 308.5h8.34M616.33 320.5h8.34M617.33 308.5h8.34M617.33 320.5h8.34M617.33 308.5h8.34M617.33 320.5h8.34M617.33 308.5h8.34M617.33 320.5h8.34M618.33 308.5h8.34M618.33 320.5h8.34M618.33 308.5h8.34M618.33 320.5h8.34M618.33 308.5h8.34M618.33 320.5h8.34M618.33 308.5h8.34M618.33 320.5h8.34M619.33 308.5h8.34M619.33 320.5h8.34M619.33 308.5h8.34M619.33 320.5h8.34M619.33 308.5h8.34M619.33 320.5h8.34M619.33 308.5h8.34M619.33 320.5h8.34M620.33 308.5h8.34M620.33 320.5h8.34M620.33 308.5h8.34M620.33 320.5h8.34M620.33 308.5h8.34M620.33 320.5h8.34M621.33 308.5h8.34M621.33 320.5h8.34M621.33 308.5h8.34M621.33 321.5h8.34M621.33 308.5h8.34M621.33 321.5h8.34M621.33 309.5h8.34M621.33 321.5h8.34M622.33 309.5h8.34M622.33 321.5h8.34M622.33 309.5h8.34M622.33 321.5h8.34M622.33 309.5h8.34M622.33 321.5h8.34M623.33 309.5h8.34M623.33 321.5h8.34M623.33 309.5h8.34M623.33 321.5h8.34M623.33 309.5h8.34M623.33 321.5h8.34M623.33 309.5h8.34M623.33 321.5h8.34M624.33 309.5h8.34M624.33 321.5h8.34M624.33 309.5h8.34M624.33 321.5h8.34M624.33 309.5h8.34M624.33 321.5h8.34M625.33 309.5h8.34M625.33 321.5h8.34M625.33 309.5h8.34M625.33 321.5h8.34M625.33 309.5h8.34M625.33 321.5h8.34M625.33 309.5h8.34M625.33 321.5h8.34M626.33 309.5h8.34M626.33 321.5h8.34M626.33 309.5h8.34M626.33 321.5h8.34M626.33 309.5h8.34M626.33 322.5h8.34M626.33 309.5h8.34M626.33 322.5h8.34M627.33 309.5h8.34M627.33 322.5h8.34M627.33 309.5h8.34M627.33 322.5h8.34M627.33 309.5h8.34M627.33 322.5h8.34M628.33 309.5h8.34M628.33 322.5h8.34M628.33 309.5h8.34M628.33 322.5h8.34M628.33 309.5h8.34M628.33 322.5h8.34M628.33 309.5h8.34M628.33 322.5h8.34M629.33 309.5h8.34M629.33 322.5h8.34M629.33 309.5h8.34M629.33 322.5h8.34M629.33 309.5h8.34M629.33 322.5h8.34M630.33 309.5h8.34M630.33 322.5h8.34M630.33 309.5h8.34M630.33 322.5h8.34M630.33 309.5h8.34M630.33 322.5h8.34M630.33 309.5h8.34M630.33 322.5h8.34M631.33 309.5h8.34M631.33 322.5h8.34M631.33 309.5h8.34M631.33 322.5h8.34M631.33 309.5h8.34M631.33 322.5h8.34M632.33 310.5h8.34M632.33 322.5h8.34M632.33 310.5h8.34M632.33 322.5h8.34M632.33 310.5h8.34M632.33 322.5h8.34M632.33 310.5h8.34M632.33 322.5h8.34M633.33 310.5h8.34M633.33 322.5h8.34M633.33 310.5h8.34M633.33 323.5h8.34M633.33 310.5h8.34M633.33 323.5h8.34M633.33 310.5h8.34M633.33 323.5h8.34M634.33 310.5h8.34M634.33 323.5h8.34M634.33 310.5h8.34M634.33 323.5h8.34M634.33 310.5h8.34M634.33 323.5h8.34M635.33 310.5h8.34M635.33 323.5h8.34M635.33 310.5h8.34M635.33 323.5h8.34M635.33 310.5h8.34M635.33 323.5h8.34M635.33 310.5h8.34M635.33 323.5h8.34M636.33 310.5h8.34M636.33 323.5h8.34M636.33 310.5h8.34M636.33 323.5h8.34M636.33 310.5h8.34M636.33 323.5h8.34M637.33 310.5h8.34M637.33 323.5h8.34M637.33 310.5h8.34M637.33 323.5h8.34M637.33 310.5h8.34M637.33 323.5h8.34M637.33 310.5h8.34M637.33 323.5h8.34M638.33 310.5h8.34M638.33 323.5h8.34M638.33 310.5h8.34M638.33 323.5h8.34M638.33 311.5h8.34M638.33 324.5h8.34M639.33 311.5h8.34M639.33 324.5h8.34M639.33 311.5h8.34M639.33 324.5h8.34M639.33 311.5h8.34M639.33 324.5h8.34M639.33 311.5h8.34M639.33 324.5h8.34M640.33 311.5h8.34M640.33 324.5h8.34M640.33 311.5h8.34M640.33 324.5h8.34M640.33 311.5h8.34M640.33 324.5h8.34M640.33 311.5h8.34M640.33 324.5h8.34M641.33 311.5h8.34M641.33 324.5h8.34M641.33 311.5h8.34M641.33 324.5h8.34M641.33 311.5h8.34M641.33 324.5h8.34M642.33 311.5h8.34M642.33 324.5h8.34M642.33 311.5h8.34M642.33 324.5h8.34M642.33 311.5h8.34M642.33 324.5h8.34M642.33 311.5h8.34M642.33 324.5h8.34M643.33 311.5h8.34M643.33 324.5h8.34M643.33 311.5h8.34M643.33 325.5h8.34M643.33 311.5h8.34M643.33 325.5h8.34M644.33 311.5h8.34M644.33 325.5h8.34M644.33 311.5h8.34M644.33 325.5h8.34M644.33 311.5h8.34M644.33 325.5h8.34M644.33 311.5h8.34M644.33 325.5h8.34M645.33 311.5h8.34M645.33 325.5h8.34M645.33 311.5h8.34M645.33 325.5h8.34M645.33 312.5h8.34M645.33 325.5h8.34M646.33 312.5h8.34M646.33 325.5h8.34M646.33 312.5h8.34M646.33 325.5h8.34M646.33 312.5h8.34M646.33 325.5h8.34M646.33 312.5h8.34M646.33 325.5h8.34M647.33 312.5h8.34M647.33 325.5h8.34M647.33 312.5h8.34M647.33 325.5h8.34M647.33 312.5h8.34M647.33 325.5h8.34M648.33 312.5h8.34M648.33 325.5h8.34M648.33 312.5h8.34M648.33 325.5h8.34M648.33 312.5h8.34M648.33 326.5h8.34M648.33 312.5h8.34M648.33 326.5h8.34M649.33 312.5h8.34M649.33 326.5h8.34M649.33 312.5h8.34M649.33 326.5h8.34M649.33 312.5h8.34M649.33 326.5h8.34M649.33 312.5h8.34M649.33 326.5h8.34M650.33 312.5h8.34M650.33 326.5h8.34M650.33 312.5h8.34M650.33 326.5h8.34M650.33 312.5h8.34M650.33 326.5h8.34M651.33 312.5h8.34M651.33 326.5h8.34M651.33 312.5h8.34M651.33 326.5h8.34M651.33 312.5h8.34M651.33 325.5h8.34M651.33 312.5h8.34M651.33 325.5h8.34M652.33 312.5h8.34M652.33 325.5h8.34M652.33 312.5h8.34M652.33 325.5h8.34M652.33 312.5h8.34M652.33 326.5h8.34M653.33 312.5h8.34M653.33 326.5h8.34M653.33 312.5h8.34M653.33 326.5h8.34M653.33 312.5h8.34M653.33 326.5h8.34M653.33 312.5h8.34M653.33 326.5h8.34M654.33 312.5h8.34M654.33 326.5h8.34M654.33 312.5h8.34M654.33 326.5h8.34M654.33 312.5h8.34M654.33 326.5h8.34M655.33 312.5h8.34M655.33 326.5h8.34M655.33 312.5h8.34M655.33 326.5h8.34M655.33 312.5h8.34M655.33 326.5h8.34M655.33 312.5h8.34M655.33 326.5h8.34M656.33 312.5h8.34M656.33 326.5h8.34M656.33 312.5h8.34M656.33 326.5h8.34M656.33 312.5h8.34M656.33 326.5h8.34M656.33 312.5h8.34M656.33 327.5h8.34M657.33 312.5h8.34M657.33 327.5h8.34M657.33 312.5h8.34M657.33 327.5h8.34M657.33 312.5h8.34M657.33 327.5h8.34M658.33 312.5h8.34M658.33 327.5h8.34M658.33 312.5h8.34M658.33 327.5h8.34M658.33 312.5h8.34M658.33 327.5h8.34M658.33 312.5h8.34M658.33 327.5h8.34M659.33 312.5h8.34M659.33 327.5h8.34M659.33 312.5h8.34M659.33 327.5h8.34M659.33 312.5h8.34M659.33 327.5h8.34M660.33 312.5h8.34M660.33 327.5h8.34M660.33 312.5h8.34M660.33 327.5h8.34M660.33 312.5h8.34M660.33 327.5h8.34M660.33 312.5h8.34M660.33 328.5h8.34M661.33 312.5h8.34M661.33 328.5h8.34M661.33 312.5h8.34M661.33 328.5h8.34M661.33 312.5h8.34M661.33 328.5h8.34M662.33 312.5h8.34M662.33 328.5h8.34M662.33 312.5h8.34M662.33 328.5h8.34M662.33 312.5h8.34M662.33 328.5h8.34M662.33 312.5h8.34M662.33 328.5h8.34M663.33 312.5h8.34M663.33 328.5h8.34M663.33 312.5h8.34M663.33 328.5h8.34M663.33 312.5h8.34M663.33 328.5h8.34M663.33 312.5h8.34M663.33 328.5h8.34M664.33 312.5h8.34M664.33 328.5h8.34M664.33 312.5h8.34M664.33 328.5h8.34M664.33 312.5h8.34M664.33 329.5h8.34M665.33 312.5h8.34M665.33 329.5h8.34M665.33 312.5h8.34M665.33 329.5h8.34M665.33 312.5h8.34M665.33 329.5h8.34M665.33 312.5h8.34M665.33 329.5h8.34M666.33 312.5h8.34M666.33 329.5h8.34M666.33 312.5h8.34M666.33 329.5h8.34M666.33 312.5h8.34M666.33 329.5h8.34M667.33 312.5h8.34M667.33 329.5h8.34M667.33 312.5h8.34M667.33 329.5h8.34M667.33 312.5h8.34M667.33 329.5h8.34M667.33 312.5h8.34M667.33 329.5h8.34M668.33 312.5h8.34M668.33 329.5h8.34M668.33 312.5h8.34M668.33 329.5h8.34M668.33 312.5h8.34M668.33 330.5h8.34M669.33 312.5h8.34M669.33 330.5h8.34M669.33 312.5h8.34M669.33 330.5h8.34M669.33 312.5h8.34M669.33 330.5h8.34M669.33 312.5h8.34M669.33 330.5h8.34M670.33 312.5h8.34M670.33 330.5h8.34M670.33 312.5h8.34M670.33 330.5h8.34M670.33 312.5h8.34M670.33 330.5h8.34M671.33 312.5h8.34M671.33 330.5h8.34M671.33 312.5h8.34M671.33 330.5h8.34M671.33 312.5h8.34M671.33 330.5h8.34M671.33 312.5h8.34M671.33 330.5h8.34M672.33 312.5h8.34M672.33 331.5h8.34M672.33 312.5h8.34M672.33 331.5h8.34M672.33 312.5h8.34M672.33 331.5h8.34M672.33 312.5h8.34M672.33 331.5h8.34M673.33 312.5h8.34M673.33 331.5h8.34M673.33 312.5h8.34M673.33 331.5h8.34M673.33 312.5h8.34M673.33 331.5h8.34M674.33 312.5h8.34M674.33 332.5h8.34M674.33 312.5h8.34M674.33 332.5h8.34M674.33 312.5h8.34M674.33 332.5h8.34M674.33 312.5h8.34M674.33 332.5h8.34M675.33 312.5h8.34M675.33 332.5h8.34M675.33 312.5h8.34M675.33 332.5h8.34M675.33 312.5h8.34M675.33 332.5h8.34M676.33 312.5h8.34M676.33 333.5h8.34M676.33 311.5h8.34M676.33 333.5h8.34M676.33 311.5h8.34M676.33 333.5h8.34M676.33 311.5h8.34M676.33 333.5h8.34M677.33 311.5h8.34M677.33 334.5h8.34M677.33 311.5h8.34M677.33 334.5h8.34M677.33 311.5h8.34M677.33 334.5h8.34M678.33 311.5h8.34M678.33 334.5h8.34M678.33 310.5h8.34M678.33 335.5h8.34M678.33 310.5h8.34M678.33 335.5h8.34M678.33 310.5h8.34M678.33 335.5h8.34M679.33 310.5h8.34M679.33 335.5h8.34M679.33 310.5h8.34M679.33 336.5h8.34M679.33 310.5h8.34M679.33 336.5h8.34M679.33 309.5h8.34M679.33 336.5h8.34M680.33 309.5h8.34M680.33 337.5h8.34M680.33 308.5h8.34M680.33 337.5h8.34M680.33 307.5h8.34M680.33 338.5h8.34M681.33 306.5h8.34M681.33 338.5h8.34M681.33 305.5h8.34M681.33 339.5h8.34M681.33 304.5h8.34M681.33 341.5h8.34M681.33 303.5h8.34M681.33 342.5h8.34M682.33 301.5h8.34M682.33 344.5h8.34M682.33 299.5h8.34M682.33 345.5h8.34M682.33 297.5h8.34M682.33 348.5h8.34M683.33 294.5h8.34M683.33 351.5h8.34M683.33 290.5h8.34M683.33 356.5h8.34M683.33 282.5h8.34M683.33 363.5h8.34M683.33 263.5h8.34M683.33 382.5h8.34" stroke-width="0.7"/></g><polyline points="155.5,291.5 230.5,291.5 230.5,292.5 256.5,292.5 256.5,293.5 274.5,293.5 274.5,294.5 290.5,294.5 290.5,295.5 301.5,295.5 301.5,296.5 315.5,296.5 315.5,297.5 328.5,297.5 328.5,298.5 342.5,298.5 342.5,299.5 356.5,299.5 356.5,300.5 373.5,300.5 373.5,301.5 395.5,301.5 395.5,302.5 433.5,302.5 433.5,303.5 481.5,303.5 481.5,304.5 508.5,304.5 508.5,305.5 524.5,305.5 524.5,306.5 537.5,306.5 537.5,307.5 550.5,307.5 550.5,308.5 561.5,308.5 561.5,309.5 571.5,309.5 571.5,310.5 581.5,310.5 581.5,311.5 590.5,311.5 590.5,312.5 600.5,312.5 600.5,313.5 610.5,313.5 610.5,314.5 620.5,314.5 620.5,315.5 629.5,315.5 629.5,316.5 639.5,316.5 639.5,317.5 648.5,317.5 648.5,318.5 657.5,318.5 657.5,319.5 665.5,319.5 665.5,320.5 673.5,320.5 673.5,321.5 681.5,321.5 681.5,322.5 687.5,322.5 687.5,323.5" fill="none" stroke="#000" stroke-width="8.60" stroke-linecap="round" stroke-linejoin="round"/><polyline points="155.5,291.5 230.5,291.5 230.5,292.5 256.5,292.5 256.5,293.5 274.5,293.5 274.5,294.5 290.5,294.5 290.5,295.5 301.5,295.5 301.5,296.5 315.5,296.5 315.5,297.5 328.5,297.5 328.5,298.5 342.5,298.5 342.5,299.5 356.5,299.5 356.5,300.5 373.5,300.5 373.5,301.5 395.5,301.5 395.5,302.5 433.5,302.5 433.5,303.5 481.5,303.5 481.5,304.5 508.5,304.5 508.5,305.5 524.5,305.5 524.5,306.5 537.5,306.5 537.5,307.5 550.5,307.5 550.5,308.5 561.5,308.5 561.5,309.5 571.5,309.5 571.5,310.5 581.5,310.5 581.5,311.5 590.5,311.5 590.5,312.5 600.5,312.5 600.5,313.5 610.5,313.5 610.5,314.5 620.5,314.5 620.5,315.5 629.5,315.5 629.5,316.5 639.5,316.5 639.5,317.5 648.5,317.5 648.5,318.5 657.5,318.5 657.5,319.5 665.5,319.5 665.5,320.5 673.5,320.5 673.5,321.5 681.5,321.5 681.5,322.5 687.5,322.5 687.5,323.5" fill="none" stroke="#00001e" stroke-width="6.20" stroke-linecap="round" stroke-linejoin="round"/><polyline points="155.5,291.5 230.5,291.5 230.5,292.5 256.5,292.5 256.5,293.5 274.5,293.5 274.5,294.5 290.5,294.5 290.5,295.5 301.5,295.5 301.5,296.5 315.5,296.5 315.5,297.5 328.5,297.5 328.5,298.5 342.5,298.5 342.5,299.5 356.5,299.5 356.5,300.5 373.5,300.5 373.5,301.5 395.5,301.5 395.5,302.5 433.5,302.5 433.5,303.5 481.5,303.5 481.5,304.5 508.5,304.5 508.5,305.5 524.5,305.5 524.5,306.5 537.5,306.5 537.5,307.5 550.5,307.5 550.5,308.5 561.5,308.5 561.5,309.5 571.5,309.5 571.5,310.5 581.5,310.5 581.5,311.5 590.5,311.5 590.5,312.5 600.5,312.5 600.5,313.5 610.5,313.5 610.5,314.5 620.5,314.5 620.5,315.5 629.5,315.5 629.5,316.5 639.5,316.5 639.5,317.5 648.5,317.5 648.5,318.5 657.5,318.5 657.5,319.5 665.5,319.5 665.5,320.5 673.5,320.5 673.5,321.5 681.5,321.5 681.5,322.5 687.5,322.5 687.5,323.5" fill="none" stroke="#00002a" stroke-width="3.20" stroke-linecap="round" stroke-linejoin="round" transform="translate(0,0.6)"/><circle cx="687.5" cy="323.5" r="3.85" fill="#00f" stroke="#000" stroke-width="0.8"/><rect x="100.5" y="60.5" width="620" height="480" fill="none" stroke="#000" stroke-width="1.3"/><path d="M100.5 540V534.4M100.5 61V66.6M178.5 540V534.4M178.5 61V66.6M255.5 540V534.4M255.5 61V66.6M333.5 540V534.4M333.5 61V66.6M410.5 540V534.4M410.5 61V66.6M488.5 540V534.4M488.5 61V66.6M565.5 540V534.4M565.5 61V66.6M643.5 540V534.4M643.5 61V66.6M720.5 540V534.4M720.5 61V66.6M101 500.5H106.6M720 500.5H714.4M101 433.5H106.6M720 433.5H714.4M101 367.5H106.6M720 367.5H714.4M101 300.5H106.6M720 300.5H714.4M101 233.5H106.6M720 233.5H714.4M101 167.5H106.6M720 167.5H714.4M101 100.5H106.6M720 100.5H714.4" stroke="#000" stroke-width="0.72" fill="none"/><text x="99.70" y="557" font-size="16.67" text-anchor="middle" textLength="11.60" lengthAdjust="spacingAndGlyphs">8</text><text x="177.20" y="557" font-size="16.67" text-anchor="middle" textLength="11.60" lengthAdjust="spacingAndGlyphs">9</text><text x="254.70" y="557" font-size="16.67" text-anchor="middle" textLength="19.60" lengthAdjust="spacingAndGlyphs">10</text><text x="332.20" y="557" font-size="16.67" text-anchor="middle" textLength="19.60" lengthAdjust="spacingAndGlyphs">11</text><text x="409.70" y="557" font-size="16.67" text-anchor="middle" textLength="19.60" lengthAdjust="spacingAndGlyphs">12</text><text x="487.20" y="557" font-size="16.67" text-anchor="middle" textLength="19.60" lengthAdjust="spacingAndGlyphs">13</text><text x="564.70" y="557" font-size="16.67" text-anchor="middle" textLength="19.60" lengthAdjust="spacingAndGlyphs">14</text><text x="642.20" y="557" font-size="16.67" text-anchor="middle" textLength="19.60" lengthAdjust="spacingAndGlyphs">15</text><text x="719.70" y="557" font-size="16.67" text-anchor="middle" textLength="19.60" lengthAdjust="spacingAndGlyphs">16</text><text x="94.60" y="505.80" font-size="16.67" text-anchor="end" textLength="43.40" lengthAdjust="spacingAndGlyphs">−150</text><text x="94.60" y="439.13" font-size="16.67" text-anchor="end" textLength="43.40" lengthAdjust="spacingAndGlyphs">−100</text><text x="94.60" y="372.47" font-size="16.67" text-anchor="end" textLength="32.80" lengthAdjust="spacingAndGlyphs">−50</text><text x="95.00" y="305.80" font-size="16.67" text-anchor="end" textLength="9.80" lengthAdjust="spacingAndGlyphs">0</text><text x="93.50" y="239.13" font-size="16.67" text-anchor="end" textLength="20.00" lengthAdjust="spacingAndGlyphs">50</text><text x="94.40" y="172.47" font-size="16.67" text-anchor="end" textLength="29.90" lengthAdjust="spacingAndGlyphs">100</text><text x="94.40" y="105.80" font-size="16.67" text-anchor="end" textLength="29.90" lengthAdjust="spacingAndGlyphs">150</text><text x="408.8" y="53" font-size="20" text-anchor="middle" textLength="176.5" lengthAdjust="spacingAndGlyphs">VLBA-KP-GBT-LMT</text><text x="410.4" y="576" font-size="16.67" text-anchor="middle" textLength="83.7" lengthAdjust="spacingAndGlyphs">Time (hrs)</text><text transform="translate(39.6,300) rotate(-90)" x="0" y="0" font-size="16.67" text-anchor="middle" textLength="166" lengthAdjust="spacingAndGlyphs">Closure phase (deg)</text></svg></body></html>
